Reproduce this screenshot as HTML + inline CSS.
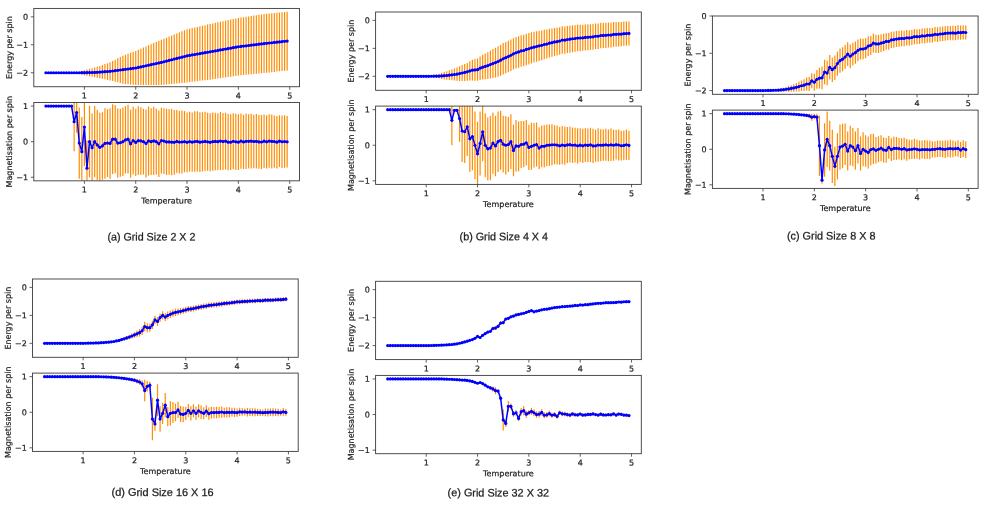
<!DOCTYPE html>
<html><head><meta charset="utf-8"><title>Ising model results</title>
<style>
html,body{margin:0;padding:0;background:#fff}
svg{display:block;text-rendering:geometricPrecision}
.t{font-family:"DejaVu Sans","Liberation Sans",sans-serif;font-size:8px;fill:#242424;stroke:#242424;stroke-width:0.22px}
.c{font-family:"Liberation Sans","DejaVu Sans",sans-serif;font-size:10.9px;fill:#1c1c1c;stroke:#1c1c1c;stroke-width:0.25px}
.eb{stroke:#ff8c00;stroke-width:1.2;fill:none}
.ln{stroke:#0000ff;stroke-width:1.5;fill:none;stroke-linejoin:round}
.mk{fill:#0000ff}
.ax{stroke:#3a3a3a;stroke-width:0.9;fill:none}
.tk{stroke:#3a3a3a;stroke-width:0.8;fill:none}
</style></head>
<body>
<svg width="1000" height="517" viewBox="0 0 1000 517">
<rect width="1000" height="517" fill="#fff"/>
<g>
<g>
<clipPath id="caE"><rect x="33.8" y="8.43" width="265.7" height="78.3"/></clipPath>
<g clip-path="url(#caE)">
<path class="eb" d="M79.27 71.91V73.59M81.83 71.02V74.38M84.4 70.14V75.17M86.97 69.5V75.71M89.53 68.87V76.25M92.1 68.24V76.79M94.67 67.6V77.33M97.23 66.83V77.73M99.8 65.92V78.28M102.37 65V78.82M104.93 64.09V79.36M107.5 63.17V79.9M110.06 62.26V80.44M112.63 60.95V81.08M115.2 59.63V81.72M117.76 58.32V82.37M120.33 57V83.01M122.9 55.69V83.65M125.46 54.74V83.93M128.03 53.79V84.21M130.6 52.84V84.49M133.16 51.89V84.77M135.73 50.94V85.05M138.3 49.82V85.05M140.86 48.7V85.05M143.43 47.58V85.05M146 46.46V85.05M148.56 45.34V85.05M151.13 44.22V85.05M153.7 43.11V85.05M156.26 41.99V85.05M158.83 40.87V85.05M161.4 39.75V85.05M163.96 38.7V84.79M166.53 37.65V84.52M169.09 36.6V84.26M171.66 35.56V83.99M174.23 34.51V83.72M176.79 33.46V83.46M179.36 32.41V83.19M181.93 31.36V82.93M184.49 30.31V82.66M187.06 29.26V82.4M189.63 28.68V82.09M192.19 28.09V81.78M194.76 27.5V81.47M197.33 26.91V81.17M199.89 26.33V80.86M202.46 25.74V80.55M205.03 25.15V80.24M207.59 24.57V79.93M210.16 23.98V79.63M212.72 23.39V79.32M215.29 22.85V78.94M217.86 22.3V78.56M220.42 21.75V78.19M222.99 21.21V77.81M225.56 20.66V77.43M228.12 20.12V77.05M230.69 19.57V76.68M233.26 19.03V76.3M235.82 18.48V75.92M238.39 17.94V75.54M240.96 17.55V75.3M243.52 17.17V75.05M246.09 16.78V74.81M248.66 16.39V74.56M251.22 16.01V74.31M253.79 15.62V74.07M256.36 15.24V73.82M258.92 14.85V73.58M261.49 14.46V73.33M264.06 14.08V73.08M266.62 13.81V72.79M269.19 13.55V72.49M271.75 13.29V72.2M274.32 13.02V71.9M276.89 12.76V71.61M279.45 12.49V71.31M282.02 12.23V71.02M284.59 11.97V70.72M287.15 11.7V70.43"/>
<polyline class="ln" points="45.9,72.75 48.47,72.75 51.04,72.75 53.6,72.75 56.17,72.75 58.74,72.75 61.3,72.75 63.87,72.75 66.43,72.75 69,72.75 71.57,72.75 74.13,72.75 76.7,72.75 79.27,72.75 81.83,72.7 84.4,72.65 86.97,72.61 89.53,72.56 92.1,72.51 94.67,72.47 97.23,72.28 99.8,72.1 102.37,71.91 104.93,71.72 107.5,71.54 110.06,71.35 112.63,71.01 115.2,70.68 117.76,70.34 120.33,70.01 122.9,69.67 125.46,69.34 128.03,69 130.6,68.67 133.16,68.33 135.73,67.99 138.3,67.43 140.86,66.88 143.43,66.32 146,65.76 148.56,65.2 151.13,64.64 153.7,64.08 156.26,63.52 158.83,62.96 161.4,62.4 163.96,61.74 166.53,61.09 169.09,60.43 171.66,59.77 174.23,59.12 176.79,58.46 179.36,57.8 181.93,57.14 184.49,56.49 187.06,55.83 189.63,55.38 192.19,54.93 194.76,54.49 197.33,54.04 199.89,53.59 202.46,53.14 205.03,52.7 207.59,52.25 210.16,51.8 212.72,51.36 215.29,50.89 217.86,50.43 220.42,49.97 222.99,49.51 225.56,49.05 228.12,48.59 230.69,48.13 233.26,47.66 235.82,47.2 238.39,46.74 240.96,46.43 243.52,46.11 246.09,45.79 248.66,45.48 251.22,45.16 253.79,44.85 256.36,44.53 258.92,44.21 261.49,43.9 264.06,43.58 266.62,43.3 269.19,43.02 271.75,42.74 274.32,42.46 276.89,42.18 279.45,41.9 282.02,41.62 284.59,41.34 287.15,41.06"/>
<g class="mk"><circle cx="45.9" cy="72.75" r="1.6"/><circle cx="48.47" cy="72.75" r="1.6"/><circle cx="51.04" cy="72.75" r="1.6"/><circle cx="53.6" cy="72.75" r="1.6"/><circle cx="56.17" cy="72.75" r="1.6"/><circle cx="58.74" cy="72.75" r="1.6"/><circle cx="61.3" cy="72.75" r="1.6"/><circle cx="63.87" cy="72.75" r="1.6"/><circle cx="66.43" cy="72.75" r="1.6"/><circle cx="69" cy="72.75" r="1.6"/><circle cx="71.57" cy="72.75" r="1.6"/><circle cx="74.13" cy="72.75" r="1.6"/><circle cx="76.7" cy="72.75" r="1.6"/><circle cx="79.27" cy="72.75" r="1.6"/><circle cx="81.83" cy="72.7" r="1.6"/><circle cx="84.4" cy="72.65" r="1.6"/><circle cx="86.97" cy="72.61" r="1.6"/><circle cx="89.53" cy="72.56" r="1.6"/><circle cx="92.1" cy="72.51" r="1.6"/><circle cx="94.67" cy="72.47" r="1.6"/><circle cx="97.23" cy="72.28" r="1.6"/><circle cx="99.8" cy="72.1" r="1.6"/><circle cx="102.37" cy="71.91" r="1.6"/><circle cx="104.93" cy="71.72" r="1.6"/><circle cx="107.5" cy="71.54" r="1.6"/><circle cx="110.06" cy="71.35" r="1.6"/><circle cx="112.63" cy="71.01" r="1.6"/><circle cx="115.2" cy="70.68" r="1.6"/><circle cx="117.76" cy="70.34" r="1.6"/><circle cx="120.33" cy="70.01" r="1.6"/><circle cx="122.9" cy="69.67" r="1.6"/><circle cx="125.46" cy="69.34" r="1.6"/><circle cx="128.03" cy="69" r="1.6"/><circle cx="130.6" cy="68.67" r="1.6"/><circle cx="133.16" cy="68.33" r="1.6"/><circle cx="135.73" cy="67.99" r="1.6"/><circle cx="138.3" cy="67.43" r="1.6"/><circle cx="140.86" cy="66.88" r="1.6"/><circle cx="143.43" cy="66.32" r="1.6"/><circle cx="146" cy="65.76" r="1.6"/><circle cx="148.56" cy="65.2" r="1.6"/><circle cx="151.13" cy="64.64" r="1.6"/><circle cx="153.7" cy="64.08" r="1.6"/><circle cx="156.26" cy="63.52" r="1.6"/><circle cx="158.83" cy="62.96" r="1.6"/><circle cx="161.4" cy="62.4" r="1.6"/><circle cx="163.96" cy="61.74" r="1.6"/><circle cx="166.53" cy="61.09" r="1.6"/><circle cx="169.09" cy="60.43" r="1.6"/><circle cx="171.66" cy="59.77" r="1.6"/><circle cx="174.23" cy="59.12" r="1.6"/><circle cx="176.79" cy="58.46" r="1.6"/><circle cx="179.36" cy="57.8" r="1.6"/><circle cx="181.93" cy="57.14" r="1.6"/><circle cx="184.49" cy="56.49" r="1.6"/><circle cx="187.06" cy="55.83" r="1.6"/><circle cx="189.63" cy="55.38" r="1.6"/><circle cx="192.19" cy="54.93" r="1.6"/><circle cx="194.76" cy="54.49" r="1.6"/><circle cx="197.33" cy="54.04" r="1.6"/><circle cx="199.89" cy="53.59" r="1.6"/><circle cx="202.46" cy="53.14" r="1.6"/><circle cx="205.03" cy="52.7" r="1.6"/><circle cx="207.59" cy="52.25" r="1.6"/><circle cx="210.16" cy="51.8" r="1.6"/><circle cx="212.72" cy="51.36" r="1.6"/><circle cx="215.29" cy="50.89" r="1.6"/><circle cx="217.86" cy="50.43" r="1.6"/><circle cx="220.42" cy="49.97" r="1.6"/><circle cx="222.99" cy="49.51" r="1.6"/><circle cx="225.56" cy="49.05" r="1.6"/><circle cx="228.12" cy="48.59" r="1.6"/><circle cx="230.69" cy="48.13" r="1.6"/><circle cx="233.26" cy="47.66" r="1.6"/><circle cx="235.82" cy="47.2" r="1.6"/><circle cx="238.39" cy="46.74" r="1.6"/><circle cx="240.96" cy="46.43" r="1.6"/><circle cx="243.52" cy="46.11" r="1.6"/><circle cx="246.09" cy="45.79" r="1.6"/><circle cx="248.66" cy="45.48" r="1.6"/><circle cx="251.22" cy="45.16" r="1.6"/><circle cx="253.79" cy="44.85" r="1.6"/><circle cx="256.36" cy="44.53" r="1.6"/><circle cx="258.92" cy="44.21" r="1.6"/><circle cx="261.49" cy="43.9" r="1.6"/><circle cx="264.06" cy="43.58" r="1.6"/><circle cx="266.62" cy="43.3" r="1.6"/><circle cx="269.19" cy="43.02" r="1.6"/><circle cx="271.75" cy="42.74" r="1.6"/><circle cx="274.32" cy="42.46" r="1.6"/><circle cx="276.89" cy="42.18" r="1.6"/><circle cx="279.45" cy="41.9" r="1.6"/><circle cx="282.02" cy="41.62" r="1.6"/><circle cx="284.59" cy="41.34" r="1.6"/><circle cx="287.15" cy="41.06" r="1.6"/></g>
</g>
<rect class="ax" x="33.8" y="8.43" width="265.7" height="78.3"/>
<path class="tk" d="M84.4 86.73v3M135.73 86.73v3M187.06 86.73v3M238.39 86.73v3M289.72 86.73v3M33.8 16.82h-3M33.8 44.78h-3M33.8 72.75h-3"/>
<text class="t" x="84.4" y="98.53" transform="rotate(0.03 84.4 98.53)" text-anchor="middle">1</text><text class="t" x="135.73" y="98.53" transform="rotate(0.03 135.73 98.53)" text-anchor="middle">2</text><text class="t" x="187.06" y="98.53" transform="rotate(0.03 187.06 98.53)" text-anchor="middle">3</text><text class="t" x="238.39" y="98.53" transform="rotate(0.03 238.39 98.53)" text-anchor="middle">4</text><text class="t" x="289.72" y="98.53" transform="rotate(0.03 289.72 98.53)" text-anchor="middle">5</text>
<text class="t" x="28.1" y="19.72" transform="rotate(0.03 28.1 19.72)" text-anchor="end">0</text><text class="t" x="28.1" y="47.68" transform="rotate(0.03 28.1 47.68)" text-anchor="end">−1</text><text class="t" x="28.1" y="75.65" transform="rotate(0.03 28.1 75.65)" text-anchor="end">−2</text>
<text class="t" transform="translate(12 47.58) rotate(-89.97)" text-anchor="middle">Energy per spin</text>
</g>
<g>
<clipPath id="caM"><rect x="33.8" y="102.53" width="265.7" height="78.3"/></clipPath>
<g clip-path="url(#caM)">
<path class="eb" d="M74.13 92.21V151.29M76.7 92.21V132.78M79.27 107.51V178.69M81.83 117.12V186.17M84.4 87.94V166.24M86.97 140.43V195.96M89.53 106.09V177.27M92.1 113.56V181.9M94.67 106.09V177.27M97.23 109.65V180.12M99.8 112.85V181.9M102.37 112.14V179.76M104.93 108.22V178.69M107.5 109.29V176.91M110.06 108.22V178.69M112.63 104.31V174.07M115.2 105.02V173.36M117.76 108.58V177.63M120.33 108.65V176.85M122.9 107.43V175.93M125.46 106.32V173.48M128.03 104.77V173.6M130.6 109.84V177.79M133.16 106.69V174.54M135.73 108.82V175.96M138.3 106.25V174.97M140.86 107.14V174.8M143.43 108.82V174.54M146 109.52V177.39M148.56 106.55V175.39M151.13 108.33V175.03M153.7 106.86V175.08M156.26 108.82V174.54M158.83 110.55V177.08M161.4 107.72V173.51M163.96 108.2V174.04M166.53 108.83V175.1M169.09 109.12V174.82M171.66 109.06V175.32M174.23 109.97V174.7M176.79 109.88V172.99M179.36 110.69V173.46M181.93 110.62V173.38M184.49 111.1V172.28M187.06 112.44V172.14M189.63 111.67V171.49M192.19 112.53V171.8M194.76 111.26V171.86M197.33 111.25V171.56M199.89 112.34V172.11M202.46 112.21V171.39M205.03 111.81V171.02M207.59 112.82V170.77M210.16 113.34V171.25M212.72 112.6V170.66M215.29 112.7V170.22M217.86 113.29V170.03M220.42 112.03V170.12M222.99 113.1V170.02M225.56 112.74V169.51M228.12 114.07V170.29M230.69 114.24V170.1M233.26 113.35V169.17M235.82 113.65V169.99M238.39 114.18V170.1M240.96 113.53V168.66M243.52 114.73V169.05M246.09 113.6V169.07M248.66 114.18V168.56M251.22 113.79V168.52M253.79 114.72V168.3M256.36 114.09V168.58M258.92 114.97V168.8M261.49 115.08V168.91M264.06 114.39V167.89M266.62 115.18V168.38M269.19 114.36V167.72M271.75 114.51V168.4M274.32 115.39V167.63M276.89 116.01V168.4M279.45 115.19V166.94M282.02 115.38V168.12M284.59 115.36V167.78M287.15 116.07V167.54"/>
<polyline class="ln" points="45.9,106.09 48.47,106.09 51.04,106.09 53.6,106.09 56.17,106.09 58.74,106.09 61.3,106.09 63.87,106.09 66.43,106.09 69,106.09 71.57,106.09 74.13,121.75 76.7,112.5 79.27,143.1 81.83,151.65 84.4,127.09 86.97,168.2 89.53,141.68 92.1,147.73 94.67,141.68 97.23,144.88 99.8,147.37 102.37,145.95 104.93,143.46 107.5,143.1 110.06,143.46 112.63,139.19 115.2,139.19 117.76,143.1 120.33,142.75 122.9,141.68 125.46,139.9 128.03,139.19 130.6,143.82 133.16,140.61 135.73,142.39 138.3,140.61 140.86,140.97 143.43,141.68 146,143.46 148.56,140.97 151.13,141.68 153.7,140.97 156.26,141.68 158.83,143.82 161.4,140.61 163.96,141.12 166.53,141.96 169.09,141.97 171.66,142.19 174.23,142.34 176.79,141.43 179.36,142.08 181.93,142 184.49,141.69 187.06,142.29 189.63,141.58 192.19,142.16 194.76,141.56 197.33,141.41 199.89,142.22 202.46,141.8 205.03,141.41 207.59,141.8 210.16,142.3 212.72,141.63 215.29,141.46 217.86,141.66 220.42,141.07 222.99,141.56 225.56,141.13 228.12,142.18 230.69,142.17 233.26,141.26 235.82,141.82 238.39,142.14 240.96,141.09 243.52,141.89 246.09,141.34 248.66,141.37 251.22,141.15 253.79,141.51 256.36,141.34 258.92,141.89 261.49,142 264.06,141.14 266.62,141.78 269.19,141.04 271.75,141.46 274.32,141.51 276.89,142.21 279.45,141.06 282.02,141.75 284.59,141.57 287.15,141.81"/>
<g class="mk"><circle cx="45.9" cy="106.09" r="1.6"/><circle cx="48.47" cy="106.09" r="1.6"/><circle cx="51.04" cy="106.09" r="1.6"/><circle cx="53.6" cy="106.09" r="1.6"/><circle cx="56.17" cy="106.09" r="1.6"/><circle cx="58.74" cy="106.09" r="1.6"/><circle cx="61.3" cy="106.09" r="1.6"/><circle cx="63.87" cy="106.09" r="1.6"/><circle cx="66.43" cy="106.09" r="1.6"/><circle cx="69" cy="106.09" r="1.6"/><circle cx="71.57" cy="106.09" r="1.6"/><circle cx="74.13" cy="121.75" r="1.6"/><circle cx="76.7" cy="112.5" r="1.6"/><circle cx="79.27" cy="143.1" r="1.6"/><circle cx="81.83" cy="151.65" r="1.6"/><circle cx="84.4" cy="127.09" r="1.6"/><circle cx="86.97" cy="168.2" r="1.6"/><circle cx="89.53" cy="141.68" r="1.6"/><circle cx="92.1" cy="147.73" r="1.6"/><circle cx="94.67" cy="141.68" r="1.6"/><circle cx="97.23" cy="144.88" r="1.6"/><circle cx="99.8" cy="147.37" r="1.6"/><circle cx="102.37" cy="145.95" r="1.6"/><circle cx="104.93" cy="143.46" r="1.6"/><circle cx="107.5" cy="143.1" r="1.6"/><circle cx="110.06" cy="143.46" r="1.6"/><circle cx="112.63" cy="139.19" r="1.6"/><circle cx="115.2" cy="139.19" r="1.6"/><circle cx="117.76" cy="143.1" r="1.6"/><circle cx="120.33" cy="142.75" r="1.6"/><circle cx="122.9" cy="141.68" r="1.6"/><circle cx="125.46" cy="139.9" r="1.6"/><circle cx="128.03" cy="139.19" r="1.6"/><circle cx="130.6" cy="143.82" r="1.6"/><circle cx="133.16" cy="140.61" r="1.6"/><circle cx="135.73" cy="142.39" r="1.6"/><circle cx="138.3" cy="140.61" r="1.6"/><circle cx="140.86" cy="140.97" r="1.6"/><circle cx="143.43" cy="141.68" r="1.6"/><circle cx="146" cy="143.46" r="1.6"/><circle cx="148.56" cy="140.97" r="1.6"/><circle cx="151.13" cy="141.68" r="1.6"/><circle cx="153.7" cy="140.97" r="1.6"/><circle cx="156.26" cy="141.68" r="1.6"/><circle cx="158.83" cy="143.82" r="1.6"/><circle cx="161.4" cy="140.61" r="1.6"/><circle cx="163.96" cy="141.12" r="1.6"/><circle cx="166.53" cy="141.96" r="1.6"/><circle cx="169.09" cy="141.97" r="1.6"/><circle cx="171.66" cy="142.19" r="1.6"/><circle cx="174.23" cy="142.34" r="1.6"/><circle cx="176.79" cy="141.43" r="1.6"/><circle cx="179.36" cy="142.08" r="1.6"/><circle cx="181.93" cy="142" r="1.6"/><circle cx="184.49" cy="141.69" r="1.6"/><circle cx="187.06" cy="142.29" r="1.6"/><circle cx="189.63" cy="141.58" r="1.6"/><circle cx="192.19" cy="142.16" r="1.6"/><circle cx="194.76" cy="141.56" r="1.6"/><circle cx="197.33" cy="141.41" r="1.6"/><circle cx="199.89" cy="142.22" r="1.6"/><circle cx="202.46" cy="141.8" r="1.6"/><circle cx="205.03" cy="141.41" r="1.6"/><circle cx="207.59" cy="141.8" r="1.6"/><circle cx="210.16" cy="142.3" r="1.6"/><circle cx="212.72" cy="141.63" r="1.6"/><circle cx="215.29" cy="141.46" r="1.6"/><circle cx="217.86" cy="141.66" r="1.6"/><circle cx="220.42" cy="141.07" r="1.6"/><circle cx="222.99" cy="141.56" r="1.6"/><circle cx="225.56" cy="141.13" r="1.6"/><circle cx="228.12" cy="142.18" r="1.6"/><circle cx="230.69" cy="142.17" r="1.6"/><circle cx="233.26" cy="141.26" r="1.6"/><circle cx="235.82" cy="141.82" r="1.6"/><circle cx="238.39" cy="142.14" r="1.6"/><circle cx="240.96" cy="141.09" r="1.6"/><circle cx="243.52" cy="141.89" r="1.6"/><circle cx="246.09" cy="141.34" r="1.6"/><circle cx="248.66" cy="141.37" r="1.6"/><circle cx="251.22" cy="141.15" r="1.6"/><circle cx="253.79" cy="141.51" r="1.6"/><circle cx="256.36" cy="141.34" r="1.6"/><circle cx="258.92" cy="141.89" r="1.6"/><circle cx="261.49" cy="142" r="1.6"/><circle cx="264.06" cy="141.14" r="1.6"/><circle cx="266.62" cy="141.78" r="1.6"/><circle cx="269.19" cy="141.04" r="1.6"/><circle cx="271.75" cy="141.46" r="1.6"/><circle cx="274.32" cy="141.51" r="1.6"/><circle cx="276.89" cy="142.21" r="1.6"/><circle cx="279.45" cy="141.06" r="1.6"/><circle cx="282.02" cy="141.75" r="1.6"/><circle cx="284.59" cy="141.57" r="1.6"/><circle cx="287.15" cy="141.81" r="1.6"/></g>
</g>
<rect class="ax" x="33.8" y="102.53" width="265.7" height="78.3"/>
<path class="tk" d="M84.4 180.83v3M135.73 180.83v3M187.06 180.83v3M238.39 180.83v3M289.72 180.83v3M33.8 106.09h-3M33.8 141.68h-3M33.8 177.27h-3"/>
<text class="t" x="84.4" y="192.63" transform="rotate(0.03 84.4 192.63)" text-anchor="middle">1</text><text class="t" x="135.73" y="192.63" transform="rotate(0.03 135.73 192.63)" text-anchor="middle">2</text><text class="t" x="187.06" y="192.63" transform="rotate(0.03 187.06 192.63)" text-anchor="middle">3</text><text class="t" x="238.39" y="192.63" transform="rotate(0.03 238.39 192.63)" text-anchor="middle">4</text><text class="t" x="289.72" y="192.63" transform="rotate(0.03 289.72 192.63)" text-anchor="middle">5</text>
<text class="t" x="28.1" y="108.99" transform="rotate(0.03 28.1 108.99)" text-anchor="end">1</text><text class="t" x="28.1" y="144.58" transform="rotate(0.03 28.1 144.58)" text-anchor="end">0</text><text class="t" x="28.1" y="180.17" transform="rotate(0.03 28.1 180.17)" text-anchor="end">−1</text>
<text class="t" transform="translate(12 141.68) rotate(-89.97)" text-anchor="middle">Magnetisation per spin</text>
</g>
<text class="t" x="166.65" y="203.43" transform="rotate(0.03 166.65 203.43)" text-anchor="middle">Temperature</text>
<text class="c" x="107.4" y="240.6" transform="rotate(0.03 151.4 240.6)" textLength="88" lengthAdjust="spacingAndGlyphs">(a) Grid Size 2 X 2</text>
<g>
<clipPath id="cbE"><rect x="375.6" y="12" width="265.7" height="78.3"/></clipPath>
<g clip-path="url(#cbE)">
<path class="eb" d="M428.77 76V76.56M431.33 75.69V76.81M433.9 75.09V77.33M436.47 74.5V77.86M439.03 73.66V78.42M441.6 72.82V78.97M444.17 71.98V79.39M446.73 71.14V79.81M449.3 70.35V80M451.87 69.55V80.18M454.43 68.49V80.51M457 67.43V80.85M459.56 66.22V80.9M462.13 65.02V80.96M464.7 64.01V80.93M467.26 62.89V80.79M469.83 61.17V80.61M472.4 59.64V80.62M474.96 59.1V80.78M477.53 58.44V80.81M480.1 56.42V79.91M482.66 54.83V79.44M485.23 53.54V79.26M487.8 52.2V79.05M490.36 50.57V78.53M492.93 49.02V78.1M495.5 47.71V77.49M498.06 46.26V76.74M500.63 44.75V75.65M503.2 43.08V74.4M505.76 41.96V73.31M508.33 40.86V72.24M510.89 39.57V70.97M513.46 38.15V69.58M516.03 37.02V68.48M518.59 36.22V67.71M521.16 35.21V66.73M523.73 34.7V66.25M526.29 33.64V65.21M528.86 32.93V64.53M531.43 32.2V63.44M533.99 31.69V62.56M536.56 31.24V61.75M539.13 30.75V60.89M541.69 30.47V60.25M544.26 29.78V59.2M546.83 29.52V58.57M549.39 28.87V57.56M551.96 28.55V56.87M554.53 27.98V55.94M557.09 27.76V55.56M559.66 27.16V54.79M562.22 26.37V53.83M564.79 26.57V53.86M567.36 25.96V53.08M569.92 25.69V52.64M572.49 25.34V52.13M575.06 25.2V51.82M577.62 24.82V51.27M580.19 24.87V51.16M582.76 24.69V50.86M585.32 24.42V50.49M587.89 24.27V50.22M590.46 24.13V49.96M593.02 23.92V49.65M595.59 23.46V49.07M598.16 23.52V49.02M600.72 22.83V48.22M603.29 22.83V48.11M605.86 22.74V47.91M608.42 22.49V47.53M610.99 22.65V47.56M613.55 22.06V46.86M616.12 21.98V46.65M618.69 21.92V46.46M621.25 21.94V46.36M623.82 21.56V45.86M626.39 21.48V45.66M628.95 21.4V45.45"/>
<polyline class="ln" points="387.7,76.32 390.27,76.32 392.84,76.32 395.4,76.32 397.97,76.32 400.54,76.32 403.1,76.32 405.67,76.32 408.23,76.32 410.8,76.32 413.37,76.32 415.93,76.32 418.5,76.32 421.07,76.32 423.63,76.32 426.2,76.32 428.77,76.28 431.33,76.25 433.9,76.21 436.47,76.18 439.03,76.04 441.6,75.9 444.17,75.69 446.73,75.48 449.3,75.17 451.87,74.86 454.43,74.5 457,74.14 459.56,73.56 462.13,72.99 464.7,72.47 467.26,71.84 469.83,70.89 472.4,70.13 474.96,69.94 477.53,69.63 480.1,68.16 482.66,67.13 485.23,66.4 487.8,65.62 490.36,64.55 492.93,63.56 495.5,62.6 498.06,61.5 500.63,60.2 503.2,58.74 505.76,57.64 508.33,56.55 510.89,55.27 513.46,53.87 516.03,52.75 518.59,51.97 521.16,50.97 523.73,50.48 526.29,49.43 528.86,48.73 531.43,47.82 533.99,47.13 536.56,46.49 539.13,45.82 541.69,45.36 544.26,44.49 546.83,44.04 549.39,43.22 551.96,42.71 554.53,41.96 557.09,41.66 559.66,40.98 562.22,40.1 564.79,40.22 567.36,39.52 569.92,39.16 572.49,38.73 575.06,38.51 577.62,38.05 580.19,38.02 582.76,37.78 585.32,37.45 587.89,37.25 590.46,37.04 593.02,36.79 595.59,36.27 598.16,36.27 600.72,35.52 603.29,35.47 605.86,35.32 608.42,35.01 610.99,35.1 613.55,34.46 616.12,34.31 618.69,34.19 621.25,34.15 623.82,33.71 626.39,33.57 628.95,33.42"/>
<g class="mk"><circle cx="387.7" cy="76.32" r="1.6"/><circle cx="390.27" cy="76.32" r="1.6"/><circle cx="392.84" cy="76.32" r="1.6"/><circle cx="395.4" cy="76.32" r="1.6"/><circle cx="397.97" cy="76.32" r="1.6"/><circle cx="400.54" cy="76.32" r="1.6"/><circle cx="403.1" cy="76.32" r="1.6"/><circle cx="405.67" cy="76.32" r="1.6"/><circle cx="408.23" cy="76.32" r="1.6"/><circle cx="410.8" cy="76.32" r="1.6"/><circle cx="413.37" cy="76.32" r="1.6"/><circle cx="415.93" cy="76.32" r="1.6"/><circle cx="418.5" cy="76.32" r="1.6"/><circle cx="421.07" cy="76.32" r="1.6"/><circle cx="423.63" cy="76.32" r="1.6"/><circle cx="426.2" cy="76.32" r="1.6"/><circle cx="428.77" cy="76.28" r="1.6"/><circle cx="431.33" cy="76.25" r="1.6"/><circle cx="433.9" cy="76.21" r="1.6"/><circle cx="436.47" cy="76.18" r="1.6"/><circle cx="439.03" cy="76.04" r="1.6"/><circle cx="441.6" cy="75.9" r="1.6"/><circle cx="444.17" cy="75.69" r="1.6"/><circle cx="446.73" cy="75.48" r="1.6"/><circle cx="449.3" cy="75.17" r="1.6"/><circle cx="451.87" cy="74.86" r="1.6"/><circle cx="454.43" cy="74.5" r="1.6"/><circle cx="457" cy="74.14" r="1.6"/><circle cx="459.56" cy="73.56" r="1.6"/><circle cx="462.13" cy="72.99" r="1.6"/><circle cx="464.7" cy="72.47" r="1.6"/><circle cx="467.26" cy="71.84" r="1.6"/><circle cx="469.83" cy="70.89" r="1.6"/><circle cx="472.4" cy="70.13" r="1.6"/><circle cx="474.96" cy="69.94" r="1.6"/><circle cx="477.53" cy="69.63" r="1.6"/><circle cx="480.1" cy="68.16" r="1.6"/><circle cx="482.66" cy="67.13" r="1.6"/><circle cx="485.23" cy="66.4" r="1.6"/><circle cx="487.8" cy="65.62" r="1.6"/><circle cx="490.36" cy="64.55" r="1.6"/><circle cx="492.93" cy="63.56" r="1.6"/><circle cx="495.5" cy="62.6" r="1.6"/><circle cx="498.06" cy="61.5" r="1.6"/><circle cx="500.63" cy="60.2" r="1.6"/><circle cx="503.2" cy="58.74" r="1.6"/><circle cx="505.76" cy="57.64" r="1.6"/><circle cx="508.33" cy="56.55" r="1.6"/><circle cx="510.89" cy="55.27" r="1.6"/><circle cx="513.46" cy="53.87" r="1.6"/><circle cx="516.03" cy="52.75" r="1.6"/><circle cx="518.59" cy="51.97" r="1.6"/><circle cx="521.16" cy="50.97" r="1.6"/><circle cx="523.73" cy="50.48" r="1.6"/><circle cx="526.29" cy="49.43" r="1.6"/><circle cx="528.86" cy="48.73" r="1.6"/><circle cx="531.43" cy="47.82" r="1.6"/><circle cx="533.99" cy="47.13" r="1.6"/><circle cx="536.56" cy="46.49" r="1.6"/><circle cx="539.13" cy="45.82" r="1.6"/><circle cx="541.69" cy="45.36" r="1.6"/><circle cx="544.26" cy="44.49" r="1.6"/><circle cx="546.83" cy="44.04" r="1.6"/><circle cx="549.39" cy="43.22" r="1.6"/><circle cx="551.96" cy="42.71" r="1.6"/><circle cx="554.53" cy="41.96" r="1.6"/><circle cx="557.09" cy="41.66" r="1.6"/><circle cx="559.66" cy="40.98" r="1.6"/><circle cx="562.22" cy="40.1" r="1.6"/><circle cx="564.79" cy="40.22" r="1.6"/><circle cx="567.36" cy="39.52" r="1.6"/><circle cx="569.92" cy="39.16" r="1.6"/><circle cx="572.49" cy="38.73" r="1.6"/><circle cx="575.06" cy="38.51" r="1.6"/><circle cx="577.62" cy="38.05" r="1.6"/><circle cx="580.19" cy="38.02" r="1.6"/><circle cx="582.76" cy="37.78" r="1.6"/><circle cx="585.32" cy="37.45" r="1.6"/><circle cx="587.89" cy="37.25" r="1.6"/><circle cx="590.46" cy="37.04" r="1.6"/><circle cx="593.02" cy="36.79" r="1.6"/><circle cx="595.59" cy="36.27" r="1.6"/><circle cx="598.16" cy="36.27" r="1.6"/><circle cx="600.72" cy="35.52" r="1.6"/><circle cx="603.29" cy="35.47" r="1.6"/><circle cx="605.86" cy="35.32" r="1.6"/><circle cx="608.42" cy="35.01" r="1.6"/><circle cx="610.99" cy="35.1" r="1.6"/><circle cx="613.55" cy="34.46" r="1.6"/><circle cx="616.12" cy="34.31" r="1.6"/><circle cx="618.69" cy="34.19" r="1.6"/><circle cx="621.25" cy="34.15" r="1.6"/><circle cx="623.82" cy="33.71" r="1.6"/><circle cx="626.39" cy="33.57" r="1.6"/><circle cx="628.95" cy="33.42" r="1.6"/></g>
</g>
<rect class="ax" x="375.6" y="12" width="265.7" height="78.3"/>
<path class="tk" d="M426.2 90.3v3M477.53 90.3v3M528.86 90.3v3M580.19 90.3v3M631.52 90.3v3M375.6 20.39h-3M375.6 48.35h-3M375.6 76.32h-3"/>
<text class="t" x="426.2" y="102.1" transform="rotate(0.03 426.2 102.1)" text-anchor="middle">1</text><text class="t" x="477.53" y="102.1" transform="rotate(0.03 477.53 102.1)" text-anchor="middle">2</text><text class="t" x="528.86" y="102.1" transform="rotate(0.03 528.86 102.1)" text-anchor="middle">3</text><text class="t" x="580.19" y="102.1" transform="rotate(0.03 580.19 102.1)" text-anchor="middle">4</text><text class="t" x="631.52" y="102.1" transform="rotate(0.03 631.52 102.1)" text-anchor="middle">5</text>
<text class="t" x="369.9" y="23.29" transform="rotate(0.03 369.9 23.29)" text-anchor="end">0</text><text class="t" x="369.9" y="51.25" transform="rotate(0.03 369.9 51.25)" text-anchor="end">−1</text><text class="t" x="369.9" y="79.22" transform="rotate(0.03 369.9 79.22)" text-anchor="end">−2</text>
<text class="t" transform="translate(353.8 51.15) rotate(-89.97)" text-anchor="middle">Energy per spin</text>
</g>
<g>
<clipPath id="cbM"><rect x="375.6" y="106.1" width="265.7" height="78.3"/></clipPath>
<g clip-path="url(#cbM)">
<path class="eb" d="M451.87 95.42V145.25M454.43 109.3V111.44M457 109.3V111.44M459.56 95.42V141.69M462.13 100.05V161.98M464.7 100.41V163.05M467.26 97.56V155.93M469.83 105.74V171.94M472.4 103.25V170.16M474.96 111.44V179.06M477.53 121.76V185.82M480.1 111.44V175.5M482.66 102.19V161.27M485.23 113.22V177.28M487.8 117.49V180.13M490.36 116.07V180.13M492.93 112.51V173.72M495.5 115.71V176.21M498.06 111.44V171.94M500.63 110.73V169.81M503.2 115.77V172.59M505.76 116.11V174.39M508.33 116.99V172.08M510.89 114.33V169.05M513.46 124.86V176.31M516.03 120.11V171.81M518.59 121.44V171.2M521.16 121.07V168M523.73 121.04V167.32M526.29 120.01V165.51M528.86 124.78V169.99M531.43 122.81V169.82M533.99 123.08V167.42M536.56 122.6V166.48M539.13 127.31V168.88M541.69 125.5V167.13M544.26 125.25V167.39M546.83 124.51V165.99M549.39 124.54V165.76M551.96 124.36V165.15M554.53 125.24V164.23M557.09 125.62V164.61M559.66 126.98V164.71M562.22 125.99V164.24M564.79 126.5V164.72M567.36 126.89V162.95M569.92 126.8V162.58M572.49 127.43V163.02M575.06 127.72V162.48M577.62 128.19V163.55M580.19 128.27V162.12M582.76 128.65V162.9M585.32 128.22V161.95M587.89 128.59V162.3M590.46 127.74V161.99M593.02 128.87V162.92M595.59 129.78V161.83M598.16 128.28V161.69M600.72 129.16V161.29M603.29 129.45V160.84M605.86 128.87V160.65M608.42 129.4V161.14M610.99 128.62V161M613.55 129.83V160.64M616.12 129.78V159.51M618.69 129.4V160.62M621.25 131.1V160.4M623.82 130.56V160.33M626.39 129.61V159.85M628.95 130.86V160.07"/>
<polyline class="ln" points="387.7,109.66 390.27,109.66 392.84,109.66 395.4,109.66 397.97,109.66 400.54,109.66 403.1,109.66 405.67,109.66 408.23,109.66 410.8,109.66 413.37,109.66 415.93,109.66 418.5,109.66 421.07,109.66 423.63,109.66 426.2,109.66 428.77,109.66 431.33,109.66 433.9,109.66 436.47,109.66 439.03,109.66 441.6,109.66 444.17,109.66 446.73,109.66 449.3,109.66 451.87,120.34 454.43,110.37 457,110.37 459.56,118.56 462.13,131.01 464.7,131.73 467.26,126.74 469.83,138.84 472.4,136.71 474.96,145.25 477.53,153.79 480.1,143.47 482.66,131.73 485.23,145.25 487.8,148.81 490.36,148.1 492.93,143.11 495.5,145.96 498.06,141.69 500.63,140.27 503.2,144.18 505.76,145.25 508.33,144.54 510.89,141.69 513.46,150.59 516.03,145.96 518.59,146.32 521.16,144.54 523.73,144.18 526.29,142.76 528.86,147.39 531.43,146.32 533.99,145.25 536.56,144.54 539.13,148.1 541.69,146.32 544.26,146.32 546.83,145.25 549.39,145.15 551.96,144.76 554.53,144.74 557.09,145.11 559.66,145.84 562.22,145.11 564.79,145.61 567.36,144.92 569.92,144.69 572.49,145.23 575.06,145.1 577.62,145.87 580.19,145.19 582.76,145.78 585.32,145.09 587.89,145.44 590.46,144.87 593.02,145.89 595.59,145.81 598.16,144.99 600.72,145.23 603.29,145.15 605.86,144.76 608.42,145.27 610.99,144.81 613.55,145.24 616.12,144.64 618.69,145.01 621.25,145.75 623.82,145.44 626.39,144.73 628.95,145.46"/>
<g class="mk"><circle cx="387.7" cy="109.66" r="1.6"/><circle cx="390.27" cy="109.66" r="1.6"/><circle cx="392.84" cy="109.66" r="1.6"/><circle cx="395.4" cy="109.66" r="1.6"/><circle cx="397.97" cy="109.66" r="1.6"/><circle cx="400.54" cy="109.66" r="1.6"/><circle cx="403.1" cy="109.66" r="1.6"/><circle cx="405.67" cy="109.66" r="1.6"/><circle cx="408.23" cy="109.66" r="1.6"/><circle cx="410.8" cy="109.66" r="1.6"/><circle cx="413.37" cy="109.66" r="1.6"/><circle cx="415.93" cy="109.66" r="1.6"/><circle cx="418.5" cy="109.66" r="1.6"/><circle cx="421.07" cy="109.66" r="1.6"/><circle cx="423.63" cy="109.66" r="1.6"/><circle cx="426.2" cy="109.66" r="1.6"/><circle cx="428.77" cy="109.66" r="1.6"/><circle cx="431.33" cy="109.66" r="1.6"/><circle cx="433.9" cy="109.66" r="1.6"/><circle cx="436.47" cy="109.66" r="1.6"/><circle cx="439.03" cy="109.66" r="1.6"/><circle cx="441.6" cy="109.66" r="1.6"/><circle cx="444.17" cy="109.66" r="1.6"/><circle cx="446.73" cy="109.66" r="1.6"/><circle cx="449.3" cy="109.66" r="1.6"/><circle cx="451.87" cy="120.34" r="1.6"/><circle cx="454.43" cy="110.37" r="1.6"/><circle cx="457" cy="110.37" r="1.6"/><circle cx="459.56" cy="118.56" r="1.6"/><circle cx="462.13" cy="131.01" r="1.6"/><circle cx="464.7" cy="131.73" r="1.6"/><circle cx="467.26" cy="126.74" r="1.6"/><circle cx="469.83" cy="138.84" r="1.6"/><circle cx="472.4" cy="136.71" r="1.6"/><circle cx="474.96" cy="145.25" r="1.6"/><circle cx="477.53" cy="153.79" r="1.6"/><circle cx="480.1" cy="143.47" r="1.6"/><circle cx="482.66" cy="131.73" r="1.6"/><circle cx="485.23" cy="145.25" r="1.6"/><circle cx="487.8" cy="148.81" r="1.6"/><circle cx="490.36" cy="148.1" r="1.6"/><circle cx="492.93" cy="143.11" r="1.6"/><circle cx="495.5" cy="145.96" r="1.6"/><circle cx="498.06" cy="141.69" r="1.6"/><circle cx="500.63" cy="140.27" r="1.6"/><circle cx="503.2" cy="144.18" r="1.6"/><circle cx="505.76" cy="145.25" r="1.6"/><circle cx="508.33" cy="144.54" r="1.6"/><circle cx="510.89" cy="141.69" r="1.6"/><circle cx="513.46" cy="150.59" r="1.6"/><circle cx="516.03" cy="145.96" r="1.6"/><circle cx="518.59" cy="146.32" r="1.6"/><circle cx="521.16" cy="144.54" r="1.6"/><circle cx="523.73" cy="144.18" r="1.6"/><circle cx="526.29" cy="142.76" r="1.6"/><circle cx="528.86" cy="147.39" r="1.6"/><circle cx="531.43" cy="146.32" r="1.6"/><circle cx="533.99" cy="145.25" r="1.6"/><circle cx="536.56" cy="144.54" r="1.6"/><circle cx="539.13" cy="148.1" r="1.6"/><circle cx="541.69" cy="146.32" r="1.6"/><circle cx="544.26" cy="146.32" r="1.6"/><circle cx="546.83" cy="145.25" r="1.6"/><circle cx="549.39" cy="145.15" r="1.6"/><circle cx="551.96" cy="144.76" r="1.6"/><circle cx="554.53" cy="144.74" r="1.6"/><circle cx="557.09" cy="145.11" r="1.6"/><circle cx="559.66" cy="145.84" r="1.6"/><circle cx="562.22" cy="145.11" r="1.6"/><circle cx="564.79" cy="145.61" r="1.6"/><circle cx="567.36" cy="144.92" r="1.6"/><circle cx="569.92" cy="144.69" r="1.6"/><circle cx="572.49" cy="145.23" r="1.6"/><circle cx="575.06" cy="145.1" r="1.6"/><circle cx="577.62" cy="145.87" r="1.6"/><circle cx="580.19" cy="145.19" r="1.6"/><circle cx="582.76" cy="145.78" r="1.6"/><circle cx="585.32" cy="145.09" r="1.6"/><circle cx="587.89" cy="145.44" r="1.6"/><circle cx="590.46" cy="144.87" r="1.6"/><circle cx="593.02" cy="145.89" r="1.6"/><circle cx="595.59" cy="145.81" r="1.6"/><circle cx="598.16" cy="144.99" r="1.6"/><circle cx="600.72" cy="145.23" r="1.6"/><circle cx="603.29" cy="145.15" r="1.6"/><circle cx="605.86" cy="144.76" r="1.6"/><circle cx="608.42" cy="145.27" r="1.6"/><circle cx="610.99" cy="144.81" r="1.6"/><circle cx="613.55" cy="145.24" r="1.6"/><circle cx="616.12" cy="144.64" r="1.6"/><circle cx="618.69" cy="145.01" r="1.6"/><circle cx="621.25" cy="145.75" r="1.6"/><circle cx="623.82" cy="145.44" r="1.6"/><circle cx="626.39" cy="144.73" r="1.6"/><circle cx="628.95" cy="145.46" r="1.6"/></g>
</g>
<rect class="ax" x="375.6" y="106.1" width="265.7" height="78.3"/>
<path class="tk" d="M426.2 184.4v3M477.53 184.4v3M528.86 184.4v3M580.19 184.4v3M631.52 184.4v3M375.6 109.66h-3M375.6 145.25h-3M375.6 180.84h-3"/>
<text class="t" x="426.2" y="196.2" transform="rotate(0.03 426.2 196.2)" text-anchor="middle">1</text><text class="t" x="477.53" y="196.2" transform="rotate(0.03 477.53 196.2)" text-anchor="middle">2</text><text class="t" x="528.86" y="196.2" transform="rotate(0.03 528.86 196.2)" text-anchor="middle">3</text><text class="t" x="580.19" y="196.2" transform="rotate(0.03 580.19 196.2)" text-anchor="middle">4</text><text class="t" x="631.52" y="196.2" transform="rotate(0.03 631.52 196.2)" text-anchor="middle">5</text>
<text class="t" x="369.9" y="112.56" transform="rotate(0.03 369.9 112.56)" text-anchor="end">1</text><text class="t" x="369.9" y="148.15" transform="rotate(0.03 369.9 148.15)" text-anchor="end">0</text><text class="t" x="369.9" y="183.74" transform="rotate(0.03 369.9 183.74)" text-anchor="end">−1</text>
<text class="t" transform="translate(353.8 145.25) rotate(-89.97)" text-anchor="middle">Magnetisation per spin</text>
</g>
<text class="t" x="508.45" y="207" transform="rotate(0.03 508.45 207)" text-anchor="middle">Temperature</text>
<text class="c" x="459.6" y="240.3" transform="rotate(0.03 503.8 240.3)" textLength="88.4" lengthAdjust="spacingAndGlyphs">(b) Grid Size 4 X 4</text>
<g>
<clipPath id="ccE"><rect x="712.4" y="16" width="265.7" height="78.3"/></clipPath>
<g clip-path="url(#ccE)">
<path class="eb" d="M768.13 90.17V90.73M770.7 89.97V90.8M773.27 89.76V90.88M775.83 89.33V91.19M778.4 88.89V91.5M780.97 88.33V91.5M783.53 87.78V91.5M786.1 86.94V91.6M788.66 86.1V91.69M791.23 85.16V91.69M793.8 84.23V91.69M796.36 83V91.58M798.93 81.77V91.47M801.5 80.41V91.11M804.06 79.31V91.02M806.63 77.62V90.4M809.2 77.09V90.93M811.76 73.35V88.26M814.33 73.83V90.68M816.9 69.95V88.74M819.46 67.79V88.52M822.03 66.52V89.19M824.6 59.74V84.34M827.16 60.74V85.35M829.73 54.93V79.53M832.3 57.44V81.94M834.86 55.48V79.88M837.43 51.43V75.72M840 48.58V72.76M842.56 47.18V71.25M845.13 45.03V69M847.69 42.17V66.04M850.26 44.6V67.93M852.83 42.71V65.5M855.39 41.52V63.78M857.96 39.59V61.32M860.53 38.4V59.6M863.09 38.66V59.33M865.66 38.19V58.32M868.23 36.23V55.95M870.79 35.7V54.99M873.36 33.71V52.58M875.93 34.66V53.12M878.49 34.87V52.91M881.06 34.34V51.95M883.63 33.84V51.03M886.19 33V49.78M888.76 33.08V49.7M891.33 31.65V48.11M893.89 31.45V47.77M896.46 30.96V47.11M899.02 30.65V46.65M901.59 30.51V46.35M904.16 30.66V46.36M906.72 30V45.53M909.29 30.23V45.61M911.86 29.88V45.11M914.42 29.09V44.16M916.99 29.23V44.15M919.56 29.15V44.03M922.12 28.48V43.32M924.69 28.6V43.4M927.26 27.97V42.72M929.82 27.99V42.71M932.39 27.88V42.56M934.96 26.92V41.56M937.52 27.32V41.92M940.09 26.71V41.27M942.65 26.57V41.09M945.22 26.18V40.66M947.79 25.88V40.33M950.35 25.91V40.31M952.92 25.77V40.13M955.49 25.96V40.29M958.05 25.37V39.65M960.62 25.59V39.84M963.19 25.22V39.43M965.75 25.41V39.57"/>
<polyline class="ln" points="724.5,90.57 727.07,90.57 729.64,90.57 732.2,90.57 734.77,90.57 737.34,90.57 739.9,90.57 742.47,90.57 745.03,90.57 747.6,90.57 750.17,90.57 752.73,90.57 755.3,90.57 757.87,90.57 760.43,90.57 763,90.57 765.57,90.51 768.13,90.45 770.7,90.39 773.27,90.32 775.83,90.26 778.4,90.2 780.97,89.92 783.53,89.64 786.1,89.27 788.66,88.89 791.23,88.43 793.8,87.96 796.36,87.29 798.93,86.62 801.5,85.76 804.06,85.16 806.63,84.01 809.2,84.01 811.76,80.8 814.33,82.26 816.9,79.35 819.46,78.16 822.03,77.86 824.6,72.04 827.16,73.05 829.73,67.23 832.3,69.69 834.86,67.68 837.43,63.58 840,60.67 842.56,59.21 845.13,57.01 847.69,54.11 850.26,56.27 852.83,54.11 855.39,52.65 857.96,50.45 860.53,49 863.09,49 865.66,48.25 868.23,46.09 870.79,45.34 873.36,43.14 875.93,43.89 878.49,43.89 881.06,43.14 883.63,42.44 886.19,41.39 888.76,41.39 891.33,39.88 893.89,39.61 896.46,39.03 899.02,38.65 901.59,38.43 904.16,38.51 906.72,37.77 909.29,37.92 911.86,37.5 914.42,36.63 916.99,36.69 919.56,36.59 922.12,35.9 924.69,36 927.26,35.35 929.82,35.35 932.39,35.22 934.96,34.24 937.52,34.62 940.09,33.99 942.65,33.83 945.22,33.42 947.79,33.11 950.35,33.11 952.92,32.95 955.49,33.13 958.05,32.51 960.62,32.71 963.19,32.33 965.75,32.49"/>
<g class="mk"><circle cx="724.5" cy="90.57" r="1.6"/><circle cx="727.07" cy="90.57" r="1.6"/><circle cx="729.64" cy="90.57" r="1.6"/><circle cx="732.2" cy="90.57" r="1.6"/><circle cx="734.77" cy="90.57" r="1.6"/><circle cx="737.34" cy="90.57" r="1.6"/><circle cx="739.9" cy="90.57" r="1.6"/><circle cx="742.47" cy="90.57" r="1.6"/><circle cx="745.03" cy="90.57" r="1.6"/><circle cx="747.6" cy="90.57" r="1.6"/><circle cx="750.17" cy="90.57" r="1.6"/><circle cx="752.73" cy="90.57" r="1.6"/><circle cx="755.3" cy="90.57" r="1.6"/><circle cx="757.87" cy="90.57" r="1.6"/><circle cx="760.43" cy="90.57" r="1.6"/><circle cx="763" cy="90.57" r="1.6"/><circle cx="765.57" cy="90.51" r="1.6"/><circle cx="768.13" cy="90.45" r="1.6"/><circle cx="770.7" cy="90.39" r="1.6"/><circle cx="773.27" cy="90.32" r="1.6"/><circle cx="775.83" cy="90.26" r="1.6"/><circle cx="778.4" cy="90.2" r="1.6"/><circle cx="780.97" cy="89.92" r="1.6"/><circle cx="783.53" cy="89.64" r="1.6"/><circle cx="786.1" cy="89.27" r="1.6"/><circle cx="788.66" cy="88.89" r="1.6"/><circle cx="791.23" cy="88.43" r="1.6"/><circle cx="793.8" cy="87.96" r="1.6"/><circle cx="796.36" cy="87.29" r="1.6"/><circle cx="798.93" cy="86.62" r="1.6"/><circle cx="801.5" cy="85.76" r="1.6"/><circle cx="804.06" cy="85.16" r="1.6"/><circle cx="806.63" cy="84.01" r="1.6"/><circle cx="809.2" cy="84.01" r="1.6"/><circle cx="811.76" cy="80.8" r="1.6"/><circle cx="814.33" cy="82.26" r="1.6"/><circle cx="816.9" cy="79.35" r="1.6"/><circle cx="819.46" cy="78.16" r="1.6"/><circle cx="822.03" cy="77.86" r="1.6"/><circle cx="824.6" cy="72.04" r="1.6"/><circle cx="827.16" cy="73.05" r="1.6"/><circle cx="829.73" cy="67.23" r="1.6"/><circle cx="832.3" cy="69.69" r="1.6"/><circle cx="834.86" cy="67.68" r="1.6"/><circle cx="837.43" cy="63.58" r="1.6"/><circle cx="840" cy="60.67" r="1.6"/><circle cx="842.56" cy="59.21" r="1.6"/><circle cx="845.13" cy="57.01" r="1.6"/><circle cx="847.69" cy="54.11" r="1.6"/><circle cx="850.26" cy="56.27" r="1.6"/><circle cx="852.83" cy="54.11" r="1.6"/><circle cx="855.39" cy="52.65" r="1.6"/><circle cx="857.96" cy="50.45" r="1.6"/><circle cx="860.53" cy="49" r="1.6"/><circle cx="863.09" cy="49" r="1.6"/><circle cx="865.66" cy="48.25" r="1.6"/><circle cx="868.23" cy="46.09" r="1.6"/><circle cx="870.79" cy="45.34" r="1.6"/><circle cx="873.36" cy="43.14" r="1.6"/><circle cx="875.93" cy="43.89" r="1.6"/><circle cx="878.49" cy="43.89" r="1.6"/><circle cx="881.06" cy="43.14" r="1.6"/><circle cx="883.63" cy="42.44" r="1.6"/><circle cx="886.19" cy="41.39" r="1.6"/><circle cx="888.76" cy="41.39" r="1.6"/><circle cx="891.33" cy="39.88" r="1.6"/><circle cx="893.89" cy="39.61" r="1.6"/><circle cx="896.46" cy="39.03" r="1.6"/><circle cx="899.02" cy="38.65" r="1.6"/><circle cx="901.59" cy="38.43" r="1.6"/><circle cx="904.16" cy="38.51" r="1.6"/><circle cx="906.72" cy="37.77" r="1.6"/><circle cx="909.29" cy="37.92" r="1.6"/><circle cx="911.86" cy="37.5" r="1.6"/><circle cx="914.42" cy="36.63" r="1.6"/><circle cx="916.99" cy="36.69" r="1.6"/><circle cx="919.56" cy="36.59" r="1.6"/><circle cx="922.12" cy="35.9" r="1.6"/><circle cx="924.69" cy="36" r="1.6"/><circle cx="927.26" cy="35.35" r="1.6"/><circle cx="929.82" cy="35.35" r="1.6"/><circle cx="932.39" cy="35.22" r="1.6"/><circle cx="934.96" cy="34.24" r="1.6"/><circle cx="937.52" cy="34.62" r="1.6"/><circle cx="940.09" cy="33.99" r="1.6"/><circle cx="942.65" cy="33.83" r="1.6"/><circle cx="945.22" cy="33.42" r="1.6"/><circle cx="947.79" cy="33.11" r="1.6"/><circle cx="950.35" cy="33.11" r="1.6"/><circle cx="952.92" cy="32.95" r="1.6"/><circle cx="955.49" cy="33.13" r="1.6"/><circle cx="958.05" cy="32.51" r="1.6"/><circle cx="960.62" cy="32.71" r="1.6"/><circle cx="963.19" cy="32.33" r="1.6"/><circle cx="965.75" cy="32.49" r="1.6"/></g>
</g>
<rect class="ax" x="712.4" y="16" width="265.7" height="78.3"/>
<path class="tk" d="M763 94.3v3M814.33 94.3v3M865.66 94.3v3M916.99 94.3v3M968.32 94.3v3M712.4 16h-3M712.4 53.29h-3M712.4 90.57h-3"/>
<text class="t" x="763" y="106.1" transform="rotate(0.03 763 106.1)" text-anchor="middle">1</text><text class="t" x="814.33" y="106.1" transform="rotate(0.03 814.33 106.1)" text-anchor="middle">2</text><text class="t" x="865.66" y="106.1" transform="rotate(0.03 865.66 106.1)" text-anchor="middle">3</text><text class="t" x="916.99" y="106.1" transform="rotate(0.03 916.99 106.1)" text-anchor="middle">4</text><text class="t" x="968.32" y="106.1" transform="rotate(0.03 968.32 106.1)" text-anchor="middle">5</text>
<text class="t" x="706.7" y="18.9" transform="rotate(0.03 706.7 18.9)" text-anchor="end">0</text><text class="t" x="706.7" y="56.19" transform="rotate(0.03 706.7 56.19)" text-anchor="end">−1</text><text class="t" x="706.7" y="93.47" transform="rotate(0.03 706.7 93.47)" text-anchor="end">−2</text>
<text class="t" transform="translate(690.6 55.15) rotate(-89.97)" text-anchor="middle">Energy per spin</text>
</g>
<g>
<clipPath id="ccM"><rect x="712.4" y="110.1" width="265.7" height="78.3"/></clipPath>
<g clip-path="url(#ccM)">
<path class="eb" d="M796.36 114.02V114.73M798.93 113.84V115.26M801.5 113.75V115.88M804.06 113.66V116.51M806.63 113.66V117.22M809.2 113.66V117.93M811.76 113.66V120.78M814.33 113.66V119.35M816.9 113.66V120.78M819.46 115.44V175.94M822.03 176.66V183.77M824.6 123.27V176.66M827.16 111.52V167.05M829.73 120.78V170.6M832.3 129.68V183.06M834.86 146.76V185.91M837.43 133.23V179.5M840 124.53V169.7M842.56 123.82V168.27M845.13 123.48V165.06M847.69 131.56V170.5M850.26 125.86V165.53M852.83 128.09V166.13M855.39 131.51V169.83M857.96 127.9V163.48M860.53 136.49V170.55M863.09 132.17V166.33M865.66 135.37V166.69M868.23 136.38V168.52M870.79 133.88V165.34M873.36 133.87V163.92M875.93 137.02V163.62M878.49 136.27V162.23M881.06 135.22V161.14M883.63 137.41V162.51M886.19 137.98V162.65M888.76 136.1V158.84M891.33 138.27V160.94M893.89 136.72V160.12M896.46 137.05V159.87M899.02 137.94V159.32M901.59 138.28V160.31M904.16 137.79V159.5M906.72 139.12V160.69M909.29 139.83V159.35M911.86 139.66V158.97M914.42 138.71V158.93M916.99 139.87V158.68M919.56 140.38V159.41M922.12 140.47V158.59M924.69 140.04V159.08M927.26 140.39V158.82M929.82 140.47V159.22M932.39 141.32V157.49M934.96 141.19V157.49M937.52 140.4V157.12M940.09 140.44V157M942.65 140.83V157.59M945.22 140.61V158.03M947.79 140.6V156.91M950.35 139.71V157.41M952.92 140.51V157.36M955.49 141.3V156.13M958.05 140.31V156.63M960.62 142.05V158.09M963.19 140.24V156.92M965.75 141.27V158.02"/>
<polyline class="ln" points="724.5,113.66 727.07,113.66 729.64,113.66 732.2,113.66 734.77,113.66 737.34,113.66 739.9,113.66 742.47,113.66 745.03,113.66 747.6,113.66 750.17,113.66 752.73,113.66 755.3,113.66 757.87,113.66 760.43,113.66 763,113.66 765.57,113.66 768.13,113.66 770.7,113.66 773.27,113.66 775.83,113.66 778.4,113.66 780.97,113.66 783.53,113.66 786.1,113.75 788.66,113.84 791.23,114.02 793.8,114.19 796.36,114.37 798.93,114.55 801.5,114.82 804.06,115.08 806.63,115.44 809.2,115.79 811.76,117.22 814.33,116.51 816.9,117.22 819.46,145.69 822.03,180.21 824.6,149.96 827.16,139.28 829.73,145.69 832.3,156.37 834.86,166.33 837.43,156.37 840,147.11 842.56,146.05 845.13,144.27 847.69,151.03 850.26,145.69 852.83,147.11 855.39,150.67 857.96,145.69 860.53,153.52 863.09,149.25 865.66,151.03 868.23,152.45 870.79,149.61 873.36,148.89 875.93,150.32 878.49,149.25 881.06,148.18 883.63,149.96 886.19,150.32 888.76,147.47 891.33,149.61 893.89,148.42 896.46,148.46 899.02,148.63 901.59,149.3 904.16,148.64 906.72,149.91 909.29,149.59 911.86,149.32 914.42,148.82 916.99,149.28 919.56,149.9 922.12,149.53 924.69,149.56 927.26,149.61 929.82,149.85 932.39,149.4 934.96,149.34 937.52,148.76 940.09,148.72 942.65,149.21 945.22,149.32 947.79,148.75 950.35,148.56 952.92,148.94 955.49,148.72 958.05,148.47 960.62,150.07 963.19,148.58 965.75,149.65"/>
<g class="mk"><circle cx="724.5" cy="113.66" r="1.6"/><circle cx="727.07" cy="113.66" r="1.6"/><circle cx="729.64" cy="113.66" r="1.6"/><circle cx="732.2" cy="113.66" r="1.6"/><circle cx="734.77" cy="113.66" r="1.6"/><circle cx="737.34" cy="113.66" r="1.6"/><circle cx="739.9" cy="113.66" r="1.6"/><circle cx="742.47" cy="113.66" r="1.6"/><circle cx="745.03" cy="113.66" r="1.6"/><circle cx="747.6" cy="113.66" r="1.6"/><circle cx="750.17" cy="113.66" r="1.6"/><circle cx="752.73" cy="113.66" r="1.6"/><circle cx="755.3" cy="113.66" r="1.6"/><circle cx="757.87" cy="113.66" r="1.6"/><circle cx="760.43" cy="113.66" r="1.6"/><circle cx="763" cy="113.66" r="1.6"/><circle cx="765.57" cy="113.66" r="1.6"/><circle cx="768.13" cy="113.66" r="1.6"/><circle cx="770.7" cy="113.66" r="1.6"/><circle cx="773.27" cy="113.66" r="1.6"/><circle cx="775.83" cy="113.66" r="1.6"/><circle cx="778.4" cy="113.66" r="1.6"/><circle cx="780.97" cy="113.66" r="1.6"/><circle cx="783.53" cy="113.66" r="1.6"/><circle cx="786.1" cy="113.75" r="1.6"/><circle cx="788.66" cy="113.84" r="1.6"/><circle cx="791.23" cy="114.02" r="1.6"/><circle cx="793.8" cy="114.19" r="1.6"/><circle cx="796.36" cy="114.37" r="1.6"/><circle cx="798.93" cy="114.55" r="1.6"/><circle cx="801.5" cy="114.82" r="1.6"/><circle cx="804.06" cy="115.08" r="1.6"/><circle cx="806.63" cy="115.44" r="1.6"/><circle cx="809.2" cy="115.79" r="1.6"/><circle cx="811.76" cy="117.22" r="1.6"/><circle cx="814.33" cy="116.51" r="1.6"/><circle cx="816.9" cy="117.22" r="1.6"/><circle cx="819.46" cy="145.69" r="1.6"/><circle cx="822.03" cy="180.21" r="1.6"/><circle cx="824.6" cy="149.96" r="1.6"/><circle cx="827.16" cy="139.28" r="1.6"/><circle cx="829.73" cy="145.69" r="1.6"/><circle cx="832.3" cy="156.37" r="1.6"/><circle cx="834.86" cy="166.33" r="1.6"/><circle cx="837.43" cy="156.37" r="1.6"/><circle cx="840" cy="147.11" r="1.6"/><circle cx="842.56" cy="146.05" r="1.6"/><circle cx="845.13" cy="144.27" r="1.6"/><circle cx="847.69" cy="151.03" r="1.6"/><circle cx="850.26" cy="145.69" r="1.6"/><circle cx="852.83" cy="147.11" r="1.6"/><circle cx="855.39" cy="150.67" r="1.6"/><circle cx="857.96" cy="145.69" r="1.6"/><circle cx="860.53" cy="153.52" r="1.6"/><circle cx="863.09" cy="149.25" r="1.6"/><circle cx="865.66" cy="151.03" r="1.6"/><circle cx="868.23" cy="152.45" r="1.6"/><circle cx="870.79" cy="149.61" r="1.6"/><circle cx="873.36" cy="148.89" r="1.6"/><circle cx="875.93" cy="150.32" r="1.6"/><circle cx="878.49" cy="149.25" r="1.6"/><circle cx="881.06" cy="148.18" r="1.6"/><circle cx="883.63" cy="149.96" r="1.6"/><circle cx="886.19" cy="150.32" r="1.6"/><circle cx="888.76" cy="147.47" r="1.6"/><circle cx="891.33" cy="149.61" r="1.6"/><circle cx="893.89" cy="148.42" r="1.6"/><circle cx="896.46" cy="148.46" r="1.6"/><circle cx="899.02" cy="148.63" r="1.6"/><circle cx="901.59" cy="149.3" r="1.6"/><circle cx="904.16" cy="148.64" r="1.6"/><circle cx="906.72" cy="149.91" r="1.6"/><circle cx="909.29" cy="149.59" r="1.6"/><circle cx="911.86" cy="149.32" r="1.6"/><circle cx="914.42" cy="148.82" r="1.6"/><circle cx="916.99" cy="149.28" r="1.6"/><circle cx="919.56" cy="149.9" r="1.6"/><circle cx="922.12" cy="149.53" r="1.6"/><circle cx="924.69" cy="149.56" r="1.6"/><circle cx="927.26" cy="149.61" r="1.6"/><circle cx="929.82" cy="149.85" r="1.6"/><circle cx="932.39" cy="149.4" r="1.6"/><circle cx="934.96" cy="149.34" r="1.6"/><circle cx="937.52" cy="148.76" r="1.6"/><circle cx="940.09" cy="148.72" r="1.6"/><circle cx="942.65" cy="149.21" r="1.6"/><circle cx="945.22" cy="149.32" r="1.6"/><circle cx="947.79" cy="148.75" r="1.6"/><circle cx="950.35" cy="148.56" r="1.6"/><circle cx="952.92" cy="148.94" r="1.6"/><circle cx="955.49" cy="148.72" r="1.6"/><circle cx="958.05" cy="148.47" r="1.6"/><circle cx="960.62" cy="150.07" r="1.6"/><circle cx="963.19" cy="148.58" r="1.6"/><circle cx="965.75" cy="149.65" r="1.6"/></g>
</g>
<rect class="ax" x="712.4" y="110.1" width="265.7" height="78.3"/>
<path class="tk" d="M763 188.4v3M814.33 188.4v3M865.66 188.4v3M916.99 188.4v3M968.32 188.4v3M712.4 113.66h-3M712.4 149.25h-3M712.4 184.84h-3"/>
<text class="t" x="763" y="200.2" transform="rotate(0.03 763 200.2)" text-anchor="middle">1</text><text class="t" x="814.33" y="200.2" transform="rotate(0.03 814.33 200.2)" text-anchor="middle">2</text><text class="t" x="865.66" y="200.2" transform="rotate(0.03 865.66 200.2)" text-anchor="middle">3</text><text class="t" x="916.99" y="200.2" transform="rotate(0.03 916.99 200.2)" text-anchor="middle">4</text><text class="t" x="968.32" y="200.2" transform="rotate(0.03 968.32 200.2)" text-anchor="middle">5</text>
<text class="t" x="706.7" y="116.56" transform="rotate(0.03 706.7 116.56)" text-anchor="end">1</text><text class="t" x="706.7" y="152.15" transform="rotate(0.03 706.7 152.15)" text-anchor="end">0</text><text class="t" x="706.7" y="187.74" transform="rotate(0.03 706.7 187.74)" text-anchor="end">−1</text>
<text class="t" transform="translate(690.6 149.25) rotate(-89.97)" text-anchor="middle">Magnetisation per spin</text>
</g>
<text class="t" x="845.25" y="211" transform="rotate(0.03 845.25 211)" text-anchor="middle">Temperature</text>
<text class="c" x="787" y="239.6" transform="rotate(0.03 831.2 239.6)" textLength="88.4" lengthAdjust="spacingAndGlyphs">(c) Grid Size 8 X 8</text>
<g>
<clipPath id="cdE"><rect x="32.5" y="279" width="265.7" height="78.3"/></clipPath>
<g clip-path="url(#cdE)">
<path class="eb" d="M111.33 341.57V342.13M113.9 340.94V342.06M116.46 340.1V341.78M119.03 339.26V341.5M121.6 338.21V341.01M124.16 337.17V340.52M126.73 335.98V339.89M129.3 334.79V339.26M131.86 333.46V338.49M134.43 332.13V337.73M137 330.52V337.1M139.56 328.92V336.47M142.13 326.47V335M144.7 321.79V331.29M147.26 323.18V332.13M149.83 323.46V331.85M152.4 320.67V329.06M154.96 315.63V324.02M157.53 317.31V325.7M160.09 313.4V321.79M162.66 311.27V319.44M165.23 313.06V321M167.79 311.49V319.21M170.36 310.49V317.98M172.93 309.48V316.75M175.49 308.86V315.91M178.06 308.38V315.2M180.63 308V314.6M183.19 307.45V313.83M185.76 306.83V312.98M188.33 306.11V312.19M190.89 305.95V311.97M193.46 305.52V311.47M196.03 304.99V310.86M198.59 304.49V310.29M201.16 303.95V309.69M203.73 303.47V309.13M206.29 303.27V308.86M208.86 302.54V308.06M211.42 302.49V307.95M213.99 302.06V307.45M216.56 301.87V307.18M219.12 301.53V306.78M221.69 301.21V306.39M224.26 300.92V306.02M226.82 300.68V305.72M229.39 300.5V305.46M231.96 300.23V305.12M234.52 299.95V304.77M237.09 299.45V304.21M239.66 299.45V304.18M242.22 299.24V303.93M244.79 299.14V303.8M247.36 299.03V303.66M249.92 298.75V303.36M252.49 298.69V303.27M255.06 298.67V303.22M257.62 298.23V302.75M260.19 298.43V302.91M262.75 298.32V302.78M265.32 298V302.43M267.89 297.94V302.34M270.45 297.97V302.34M273.02 297.89V302.23M275.59 297.58V301.89M278.15 297.58V301.86M280.72 297.55V301.81M283.29 297.27V301.49M285.85 297.09V301.28"/>
<polyline class="ln" points="44.6,343.32 47.17,343.32 49.74,343.32 52.3,343.32 54.87,343.32 57.43,343.32 60,343.32 62.57,343.32 65.13,343.32 67.7,343.32 70.27,343.32 72.83,343.32 75.4,343.32 77.97,343.32 80.53,343.32 83.1,343.32 85.67,343.25 88.23,343.18 90.8,343.11 93.37,343.04 95.93,342.97 98.5,342.9 101.07,342.72 103.63,342.55 106.2,342.37 108.76,342.2 111.33,341.85 113.9,341.5 116.46,340.94 119.03,340.38 121.6,339.61 124.16,338.84 126.73,337.93 129.3,337.03 131.86,335.98 134.43,334.93 137,333.81 139.56,332.69 142.13,330.73 144.7,326.54 147.26,327.66 149.83,327.66 152.4,324.86 154.96,319.83 157.53,321.51 160.09,317.59 162.66,315.35 165.23,317.03 167.79,315.35 170.36,314.24 172.93,313.12 175.49,312.38 178.06,311.79 180.63,311.3 183.19,310.64 185.76,309.91 188.33,309.15 190.89,308.96 193.46,308.5 196.03,307.92 198.59,307.39 201.16,306.82 203.73,306.3 206.29,306.06 208.86,305.3 211.42,305.22 213.99,304.76 216.56,304.53 219.12,304.15 221.69,303.8 224.26,303.47 226.82,303.2 229.39,302.98 231.96,302.67 234.52,302.36 237.09,301.83 239.66,301.81 242.22,301.59 244.79,301.47 247.36,301.35 249.92,301.06 252.49,300.98 255.06,300.94 257.62,300.49 260.19,300.67 262.75,300.55 265.32,300.21 267.89,300.14 270.45,300.15 273.02,300.06 275.59,299.74 278.15,299.72 280.72,299.68 283.29,299.38 285.85,299.19"/>
<g class="mk"><circle cx="44.6" cy="343.32" r="1.6"/><circle cx="47.17" cy="343.32" r="1.6"/><circle cx="49.74" cy="343.32" r="1.6"/><circle cx="52.3" cy="343.32" r="1.6"/><circle cx="54.87" cy="343.32" r="1.6"/><circle cx="57.43" cy="343.32" r="1.6"/><circle cx="60" cy="343.32" r="1.6"/><circle cx="62.57" cy="343.32" r="1.6"/><circle cx="65.13" cy="343.32" r="1.6"/><circle cx="67.7" cy="343.32" r="1.6"/><circle cx="70.27" cy="343.32" r="1.6"/><circle cx="72.83" cy="343.32" r="1.6"/><circle cx="75.4" cy="343.32" r="1.6"/><circle cx="77.97" cy="343.32" r="1.6"/><circle cx="80.53" cy="343.32" r="1.6"/><circle cx="83.1" cy="343.32" r="1.6"/><circle cx="85.67" cy="343.25" r="1.6"/><circle cx="88.23" cy="343.18" r="1.6"/><circle cx="90.8" cy="343.11" r="1.6"/><circle cx="93.37" cy="343.04" r="1.6"/><circle cx="95.93" cy="342.97" r="1.6"/><circle cx="98.5" cy="342.9" r="1.6"/><circle cx="101.07" cy="342.72" r="1.6"/><circle cx="103.63" cy="342.55" r="1.6"/><circle cx="106.2" cy="342.37" r="1.6"/><circle cx="108.76" cy="342.2" r="1.6"/><circle cx="111.33" cy="341.85" r="1.6"/><circle cx="113.9" cy="341.5" r="1.6"/><circle cx="116.46" cy="340.94" r="1.6"/><circle cx="119.03" cy="340.38" r="1.6"/><circle cx="121.6" cy="339.61" r="1.6"/><circle cx="124.16" cy="338.84" r="1.6"/><circle cx="126.73" cy="337.93" r="1.6"/><circle cx="129.3" cy="337.03" r="1.6"/><circle cx="131.86" cy="335.98" r="1.6"/><circle cx="134.43" cy="334.93" r="1.6"/><circle cx="137" cy="333.81" r="1.6"/><circle cx="139.56" cy="332.69" r="1.6"/><circle cx="142.13" cy="330.73" r="1.6"/><circle cx="144.7" cy="326.54" r="1.6"/><circle cx="147.26" cy="327.66" r="1.6"/><circle cx="149.83" cy="327.66" r="1.6"/><circle cx="152.4" cy="324.86" r="1.6"/><circle cx="154.96" cy="319.83" r="1.6"/><circle cx="157.53" cy="321.51" r="1.6"/><circle cx="160.09" cy="317.59" r="1.6"/><circle cx="162.66" cy="315.35" r="1.6"/><circle cx="165.23" cy="317.03" r="1.6"/><circle cx="167.79" cy="315.35" r="1.6"/><circle cx="170.36" cy="314.24" r="1.6"/><circle cx="172.93" cy="313.12" r="1.6"/><circle cx="175.49" cy="312.38" r="1.6"/><circle cx="178.06" cy="311.79" r="1.6"/><circle cx="180.63" cy="311.3" r="1.6"/><circle cx="183.19" cy="310.64" r="1.6"/><circle cx="185.76" cy="309.91" r="1.6"/><circle cx="188.33" cy="309.15" r="1.6"/><circle cx="190.89" cy="308.96" r="1.6"/><circle cx="193.46" cy="308.5" r="1.6"/><circle cx="196.03" cy="307.92" r="1.6"/><circle cx="198.59" cy="307.39" r="1.6"/><circle cx="201.16" cy="306.82" r="1.6"/><circle cx="203.73" cy="306.3" r="1.6"/><circle cx="206.29" cy="306.06" r="1.6"/><circle cx="208.86" cy="305.3" r="1.6"/><circle cx="211.42" cy="305.22" r="1.6"/><circle cx="213.99" cy="304.76" r="1.6"/><circle cx="216.56" cy="304.53" r="1.6"/><circle cx="219.12" cy="304.15" r="1.6"/><circle cx="221.69" cy="303.8" r="1.6"/><circle cx="224.26" cy="303.47" r="1.6"/><circle cx="226.82" cy="303.2" r="1.6"/><circle cx="229.39" cy="302.98" r="1.6"/><circle cx="231.96" cy="302.67" r="1.6"/><circle cx="234.52" cy="302.36" r="1.6"/><circle cx="237.09" cy="301.83" r="1.6"/><circle cx="239.66" cy="301.81" r="1.6"/><circle cx="242.22" cy="301.59" r="1.6"/><circle cx="244.79" cy="301.47" r="1.6"/><circle cx="247.36" cy="301.35" r="1.6"/><circle cx="249.92" cy="301.06" r="1.6"/><circle cx="252.49" cy="300.98" r="1.6"/><circle cx="255.06" cy="300.94" r="1.6"/><circle cx="257.62" cy="300.49" r="1.6"/><circle cx="260.19" cy="300.67" r="1.6"/><circle cx="262.75" cy="300.55" r="1.6"/><circle cx="265.32" cy="300.21" r="1.6"/><circle cx="267.89" cy="300.14" r="1.6"/><circle cx="270.45" cy="300.15" r="1.6"/><circle cx="273.02" cy="300.06" r="1.6"/><circle cx="275.59" cy="299.74" r="1.6"/><circle cx="278.15" cy="299.72" r="1.6"/><circle cx="280.72" cy="299.68" r="1.6"/><circle cx="283.29" cy="299.38" r="1.6"/><circle cx="285.85" cy="299.19" r="1.6"/></g>
</g>
<rect class="ax" x="32.5" y="279" width="265.7" height="78.3"/>
<path class="tk" d="M83.1 357.3v3M134.43 357.3v3M185.76 357.3v3M237.09 357.3v3M288.42 357.3v3M32.5 287.39h-3M32.5 315.35h-3M32.5 343.32h-3"/>
<text class="t" x="83.1" y="369.1" transform="rotate(0.03 83.1 369.1)" text-anchor="middle">1</text><text class="t" x="134.43" y="369.1" transform="rotate(0.03 134.43 369.1)" text-anchor="middle">2</text><text class="t" x="185.76" y="369.1" transform="rotate(0.03 185.76 369.1)" text-anchor="middle">3</text><text class="t" x="237.09" y="369.1" transform="rotate(0.03 237.09 369.1)" text-anchor="middle">4</text><text class="t" x="288.42" y="369.1" transform="rotate(0.03 288.42 369.1)" text-anchor="middle">5</text>
<text class="t" x="26.8" y="290.29" transform="rotate(0.03 26.8 290.29)" text-anchor="end">0</text><text class="t" x="26.8" y="318.25" transform="rotate(0.03 26.8 318.25)" text-anchor="end">−1</text><text class="t" x="26.8" y="346.22" transform="rotate(0.03 26.8 346.22)" text-anchor="end">−2</text>
<text class="t" transform="translate(10.7 318.15) rotate(-89.97)" text-anchor="middle">Energy per spin</text>
</g>
<g>
<clipPath id="cdM"><rect x="32.5" y="373.1" width="265.7" height="78.3"/></clipPath>
<g clip-path="url(#cdM)">
<path class="eb" d="M121.6 377.73V378.44M124.16 377.73V379.15M126.73 377.82V379.77M129.3 377.9V380.4M131.86 378.17V381.2M134.43 378.44V382M137 378.79V383.42M139.56 379.15V384.85M142.13 380.22V387.34M144.7 379.86V401.22M147.26 380.93V391.61M149.83 381.64V388.76M152.4 397.66V440.37M154.96 417.23V430.76M157.53 384.13V416.17M160.09 406.2V431.82M162.66 402.64V424M165.23 393.03V417.23M167.79 407.09V426.31M170.36 401.22V425.42M172.93 402.11V423.11M175.49 403.86V421.36M178.06 401.84V418.04M180.63 406.09V421.97M183.19 406.57V422.2M185.76 406.67V419.97M188.33 404.01V416.93M190.89 406.2V420.44M193.46 404.35V417.3M196.03 406.55V420.08M198.59 404.17V417.48M201.16 405.52V418.98M203.73 407.3V419.33M206.29 405.35V417.01M208.86 407.51V419.84M211.42 406.63V418.58M213.99 406.89V418.32M216.56 406.67V418.16M219.12 406.98V417.81M221.69 406.4V417.63M224.26 407.84V417.45M226.82 407.22V417.4M229.39 407.23V417.59M231.96 407.75V416.51M234.52 407.85V416.91M237.09 408.51V416.77M239.66 407.77V416.08M242.22 408.35V415.7M244.79 408.38V415.47M247.36 408.06V416.58M249.92 408.3V416.02M252.49 408.26V416.21M255.06 408.14V416.2M257.62 408.84V416.07M260.19 408.93V415.91M262.75 409.45V415.86M265.32 408.55V416.29M267.89 408.56V416.38M270.45 408.39V416.01M273.02 408.23V416.15M275.59 408.55V415.99M278.15 408.66V416.2M280.72 409.39V415.85M283.29 408V415.69M285.85 409V415.77"/>
<polyline class="ln" points="44.6,376.66 47.17,376.66 49.74,376.66 52.3,376.66 54.87,376.66 57.43,376.66 60,376.66 62.57,376.66 65.13,376.66 67.7,376.66 70.27,376.66 72.83,376.66 75.4,376.66 77.97,376.66 80.53,376.66 83.1,376.66 85.67,376.66 88.23,376.66 90.8,376.66 93.37,376.66 95.93,376.66 98.5,376.66 101.07,376.75 103.63,376.84 106.2,376.93 108.76,377.01 111.33,377.19 113.9,377.37 116.46,377.55 119.03,377.73 121.6,378.08 124.16,378.44 126.73,378.79 129.3,379.15 131.86,379.68 134.43,380.22 137,381.11 139.56,382 142.13,383.78 144.7,390.54 147.26,386.27 149.83,385.2 152.4,419.01 154.96,424 157.53,400.15 160.09,419.01 162.66,413.32 165.23,405.13 167.79,416.7 170.36,413.32 172.93,412.61 175.49,412.61 178.06,409.94 180.63,414.03 183.19,414.39 185.76,413.32 188.33,410.47 190.89,413.32 193.46,410.83 196.03,413.32 198.59,410.83 201.16,412.25 203.73,413.32 206.29,411.18 208.86,413.67 211.42,412.61 213.99,412.61 216.56,412.42 219.12,412.39 221.69,412.02 224.26,412.64 226.82,412.31 229.39,412.41 231.96,412.13 234.52,412.38 237.09,412.64 239.66,411.93 242.22,412.03 244.79,411.93 247.36,412.32 249.92,412.16 252.49,412.24 255.06,412.17 257.62,412.45 260.19,412.42 262.75,412.66 265.32,412.42 267.89,412.47 270.45,412.2 273.02,412.19 275.59,412.27 278.15,412.43 280.72,412.62 283.29,411.84 285.85,412.39"/>
<g class="mk"><circle cx="44.6" cy="376.66" r="1.6"/><circle cx="47.17" cy="376.66" r="1.6"/><circle cx="49.74" cy="376.66" r="1.6"/><circle cx="52.3" cy="376.66" r="1.6"/><circle cx="54.87" cy="376.66" r="1.6"/><circle cx="57.43" cy="376.66" r="1.6"/><circle cx="60" cy="376.66" r="1.6"/><circle cx="62.57" cy="376.66" r="1.6"/><circle cx="65.13" cy="376.66" r="1.6"/><circle cx="67.7" cy="376.66" r="1.6"/><circle cx="70.27" cy="376.66" r="1.6"/><circle cx="72.83" cy="376.66" r="1.6"/><circle cx="75.4" cy="376.66" r="1.6"/><circle cx="77.97" cy="376.66" r="1.6"/><circle cx="80.53" cy="376.66" r="1.6"/><circle cx="83.1" cy="376.66" r="1.6"/><circle cx="85.67" cy="376.66" r="1.6"/><circle cx="88.23" cy="376.66" r="1.6"/><circle cx="90.8" cy="376.66" r="1.6"/><circle cx="93.37" cy="376.66" r="1.6"/><circle cx="95.93" cy="376.66" r="1.6"/><circle cx="98.5" cy="376.66" r="1.6"/><circle cx="101.07" cy="376.75" r="1.6"/><circle cx="103.63" cy="376.84" r="1.6"/><circle cx="106.2" cy="376.93" r="1.6"/><circle cx="108.76" cy="377.01" r="1.6"/><circle cx="111.33" cy="377.19" r="1.6"/><circle cx="113.9" cy="377.37" r="1.6"/><circle cx="116.46" cy="377.55" r="1.6"/><circle cx="119.03" cy="377.73" r="1.6"/><circle cx="121.6" cy="378.08" r="1.6"/><circle cx="124.16" cy="378.44" r="1.6"/><circle cx="126.73" cy="378.79" r="1.6"/><circle cx="129.3" cy="379.15" r="1.6"/><circle cx="131.86" cy="379.68" r="1.6"/><circle cx="134.43" cy="380.22" r="1.6"/><circle cx="137" cy="381.11" r="1.6"/><circle cx="139.56" cy="382" r="1.6"/><circle cx="142.13" cy="383.78" r="1.6"/><circle cx="144.7" cy="390.54" r="1.6"/><circle cx="147.26" cy="386.27" r="1.6"/><circle cx="149.83" cy="385.2" r="1.6"/><circle cx="152.4" cy="419.01" r="1.6"/><circle cx="154.96" cy="424" r="1.6"/><circle cx="157.53" cy="400.15" r="1.6"/><circle cx="160.09" cy="419.01" r="1.6"/><circle cx="162.66" cy="413.32" r="1.6"/><circle cx="165.23" cy="405.13" r="1.6"/><circle cx="167.79" cy="416.7" r="1.6"/><circle cx="170.36" cy="413.32" r="1.6"/><circle cx="172.93" cy="412.61" r="1.6"/><circle cx="175.49" cy="412.61" r="1.6"/><circle cx="178.06" cy="409.94" r="1.6"/><circle cx="180.63" cy="414.03" r="1.6"/><circle cx="183.19" cy="414.39" r="1.6"/><circle cx="185.76" cy="413.32" r="1.6"/><circle cx="188.33" cy="410.47" r="1.6"/><circle cx="190.89" cy="413.32" r="1.6"/><circle cx="193.46" cy="410.83" r="1.6"/><circle cx="196.03" cy="413.32" r="1.6"/><circle cx="198.59" cy="410.83" r="1.6"/><circle cx="201.16" cy="412.25" r="1.6"/><circle cx="203.73" cy="413.32" r="1.6"/><circle cx="206.29" cy="411.18" r="1.6"/><circle cx="208.86" cy="413.67" r="1.6"/><circle cx="211.42" cy="412.61" r="1.6"/><circle cx="213.99" cy="412.61" r="1.6"/><circle cx="216.56" cy="412.42" r="1.6"/><circle cx="219.12" cy="412.39" r="1.6"/><circle cx="221.69" cy="412.02" r="1.6"/><circle cx="224.26" cy="412.64" r="1.6"/><circle cx="226.82" cy="412.31" r="1.6"/><circle cx="229.39" cy="412.41" r="1.6"/><circle cx="231.96" cy="412.13" r="1.6"/><circle cx="234.52" cy="412.38" r="1.6"/><circle cx="237.09" cy="412.64" r="1.6"/><circle cx="239.66" cy="411.93" r="1.6"/><circle cx="242.22" cy="412.03" r="1.6"/><circle cx="244.79" cy="411.93" r="1.6"/><circle cx="247.36" cy="412.32" r="1.6"/><circle cx="249.92" cy="412.16" r="1.6"/><circle cx="252.49" cy="412.24" r="1.6"/><circle cx="255.06" cy="412.17" r="1.6"/><circle cx="257.62" cy="412.45" r="1.6"/><circle cx="260.19" cy="412.42" r="1.6"/><circle cx="262.75" cy="412.66" r="1.6"/><circle cx="265.32" cy="412.42" r="1.6"/><circle cx="267.89" cy="412.47" r="1.6"/><circle cx="270.45" cy="412.2" r="1.6"/><circle cx="273.02" cy="412.19" r="1.6"/><circle cx="275.59" cy="412.27" r="1.6"/><circle cx="278.15" cy="412.43" r="1.6"/><circle cx="280.72" cy="412.62" r="1.6"/><circle cx="283.29" cy="411.84" r="1.6"/><circle cx="285.85" cy="412.39" r="1.6"/></g>
</g>
<rect class="ax" x="32.5" y="373.1" width="265.7" height="78.3"/>
<path class="tk" d="M83.1 451.4v3M134.43 451.4v3M185.76 451.4v3M237.09 451.4v3M288.42 451.4v3M32.5 376.66h-3M32.5 412.25h-3M32.5 447.84h-3"/>
<text class="t" x="83.1" y="463.2" transform="rotate(0.03 83.1 463.2)" text-anchor="middle">1</text><text class="t" x="134.43" y="463.2" transform="rotate(0.03 134.43 463.2)" text-anchor="middle">2</text><text class="t" x="185.76" y="463.2" transform="rotate(0.03 185.76 463.2)" text-anchor="middle">3</text><text class="t" x="237.09" y="463.2" transform="rotate(0.03 237.09 463.2)" text-anchor="middle">4</text><text class="t" x="288.42" y="463.2" transform="rotate(0.03 288.42 463.2)" text-anchor="middle">5</text>
<text class="t" x="26.8" y="379.56" transform="rotate(0.03 26.8 379.56)" text-anchor="end">1</text><text class="t" x="26.8" y="415.15" transform="rotate(0.03 26.8 415.15)" text-anchor="end">0</text><text class="t" x="26.8" y="450.74" transform="rotate(0.03 26.8 450.74)" text-anchor="end">−1</text>
<text class="t" transform="translate(10.7 412.25) rotate(-89.97)" text-anchor="middle">Magnetisation per spin</text>
</g>
<text class="t" x="165.35" y="474" transform="rotate(0.03 165.35 474)" text-anchor="middle">Temperature</text>
<text class="c" x="111.6" y="495.9" transform="rotate(0.03 162.6 495.9)" textLength="102" lengthAdjust="spacingAndGlyphs">(d) Grid Size 16 X 16</text>
<g>
<clipPath id="ceE"><rect x="375.6" y="281.3" width="265.7" height="78.3"/></clipPath>
<g clip-path="url(#ceE)">
<path class="eb" d="M469.83 340.23V340.51M472.4 339.33V339.89M474.96 337.93V338.77M477.53 335.89V337M480.1 336.73V338.23M482.66 334.37V336.23M485.23 332.42V334.66M487.8 330.78V333.39M490.36 329.86V332.85M492.93 326.8V330.15M495.5 326.07V329.99M498.06 324.45V328.14M500.63 321.37V324.84M503.2 321.04V324.28M505.76 317.51V320.53M508.33 316.9V319.69M510.89 315.5V318.19M513.46 314.82V317.41M516.03 313.73V316.21M518.59 313.19V315.57M521.16 312.67V314.94M523.73 312.15V314.32M526.29 311.32V313.39M528.86 310.49V312.45M531.43 309.63V311.58M533.99 310.82V312.75M536.56 310.1V312.01M539.13 309.58V311.48M541.69 308.92V310.8M544.26 308.39V310.26M546.83 308.27V310.13M549.39 307.77V309.61M551.96 307.11V308.94M554.53 306.68V308.5M557.09 306.44V308.24M559.66 306.22V308.01M562.22 305.79V307.57M564.79 305.69V307.44M567.36 305.45V307.19M569.92 305.29V307.02M572.49 305.04V306.75M575.06 304.62V306.32M577.62 304.68V306.37M580.19 304.12V305.79M582.76 304.28V305.94M585.32 303.83V305.47M587.89 303.85V305.48M590.46 303.34V304.96M593.02 303.13V304.73M595.59 302.81V304.39M598.16 302.55V304.12M600.72 302.54V304.1M603.29 302.22V303.76M605.86 301.88V303.41M608.42 301.9V303.41M610.99 301.91V303.41M613.55 301.8V303.28M616.12 301.69V303.16M618.69 301.28V302.73M621.25 301.41V302.85M623.82 301.05V302.48M626.39 300.97V302.38M628.95 300.93V302.33"/>
<polyline class="ln" points="387.7,345.62 390.27,345.62 392.84,345.62 395.4,345.62 397.97,345.62 400.54,345.62 403.1,345.62 405.67,345.62 408.23,345.62 410.8,345.62 413.37,345.62 415.93,345.62 418.5,345.62 421.07,345.62 423.63,345.62 426.2,345.62 428.77,345.55 431.33,345.48 433.9,345.41 436.47,345.34 439.03,345.27 441.6,345.2 444.17,345.02 446.73,344.85 449.3,344.67 451.87,344.5 454.43,344.15 457,343.8 459.56,343.24 462.13,342.68 464.7,341.91 467.26,341.14 469.83,340.37 472.4,339.61 474.96,338.35 477.53,336.45 480.1,337.48 482.66,335.3 485.23,333.54 487.8,332.08 490.36,331.36 492.93,328.48 495.5,328.03 498.06,326.29 500.63,323.11 503.2,322.66 505.76,319.02 508.33,318.3 510.89,316.84 513.46,316.12 516.03,314.97 518.59,314.38 521.16,313.81 523.73,313.24 526.29,312.35 528.86,311.47 531.43,310.61 533.99,311.78 536.56,311.05 539.13,310.53 541.69,309.86 544.26,309.32 546.83,309.2 549.39,308.69 551.96,308.03 554.53,307.59 557.09,307.34 559.66,307.12 562.22,306.68 564.79,306.57 567.36,306.32 569.92,306.15 572.49,305.89 575.06,305.47 577.62,305.53 580.19,304.95 582.76,305.11 585.32,304.65 587.89,304.67 590.46,304.15 593.02,303.93 595.59,303.6 598.16,303.33 600.72,303.32 603.29,302.99 605.86,302.64 608.42,302.65 610.99,302.66 613.55,302.54 616.12,302.43 618.69,302.01 621.25,302.13 623.82,301.76 626.39,301.68 628.95,301.63"/>
<g class="mk"><circle cx="387.7" cy="345.62" r="1.6"/><circle cx="390.27" cy="345.62" r="1.6"/><circle cx="392.84" cy="345.62" r="1.6"/><circle cx="395.4" cy="345.62" r="1.6"/><circle cx="397.97" cy="345.62" r="1.6"/><circle cx="400.54" cy="345.62" r="1.6"/><circle cx="403.1" cy="345.62" r="1.6"/><circle cx="405.67" cy="345.62" r="1.6"/><circle cx="408.23" cy="345.62" r="1.6"/><circle cx="410.8" cy="345.62" r="1.6"/><circle cx="413.37" cy="345.62" r="1.6"/><circle cx="415.93" cy="345.62" r="1.6"/><circle cx="418.5" cy="345.62" r="1.6"/><circle cx="421.07" cy="345.62" r="1.6"/><circle cx="423.63" cy="345.62" r="1.6"/><circle cx="426.2" cy="345.62" r="1.6"/><circle cx="428.77" cy="345.55" r="1.6"/><circle cx="431.33" cy="345.48" r="1.6"/><circle cx="433.9" cy="345.41" r="1.6"/><circle cx="436.47" cy="345.34" r="1.6"/><circle cx="439.03" cy="345.27" r="1.6"/><circle cx="441.6" cy="345.2" r="1.6"/><circle cx="444.17" cy="345.02" r="1.6"/><circle cx="446.73" cy="344.85" r="1.6"/><circle cx="449.3" cy="344.67" r="1.6"/><circle cx="451.87" cy="344.5" r="1.6"/><circle cx="454.43" cy="344.15" r="1.6"/><circle cx="457" cy="343.8" r="1.6"/><circle cx="459.56" cy="343.24" r="1.6"/><circle cx="462.13" cy="342.68" r="1.6"/><circle cx="464.7" cy="341.91" r="1.6"/><circle cx="467.26" cy="341.14" r="1.6"/><circle cx="469.83" cy="340.37" r="1.6"/><circle cx="472.4" cy="339.61" r="1.6"/><circle cx="474.96" cy="338.35" r="1.6"/><circle cx="477.53" cy="336.45" r="1.6"/><circle cx="480.1" cy="337.48" r="1.6"/><circle cx="482.66" cy="335.3" r="1.6"/><circle cx="485.23" cy="333.54" r="1.6"/><circle cx="487.8" cy="332.08" r="1.6"/><circle cx="490.36" cy="331.36" r="1.6"/><circle cx="492.93" cy="328.48" r="1.6"/><circle cx="495.5" cy="328.03" r="1.6"/><circle cx="498.06" cy="326.29" r="1.6"/><circle cx="500.63" cy="323.11" r="1.6"/><circle cx="503.2" cy="322.66" r="1.6"/><circle cx="505.76" cy="319.02" r="1.6"/><circle cx="508.33" cy="318.3" r="1.6"/><circle cx="510.89" cy="316.84" r="1.6"/><circle cx="513.46" cy="316.12" r="1.6"/><circle cx="516.03" cy="314.97" r="1.6"/><circle cx="518.59" cy="314.38" r="1.6"/><circle cx="521.16" cy="313.81" r="1.6"/><circle cx="523.73" cy="313.24" r="1.6"/><circle cx="526.29" cy="312.35" r="1.6"/><circle cx="528.86" cy="311.47" r="1.6"/><circle cx="531.43" cy="310.61" r="1.6"/><circle cx="533.99" cy="311.78" r="1.6"/><circle cx="536.56" cy="311.05" r="1.6"/><circle cx="539.13" cy="310.53" r="1.6"/><circle cx="541.69" cy="309.86" r="1.6"/><circle cx="544.26" cy="309.32" r="1.6"/><circle cx="546.83" cy="309.2" r="1.6"/><circle cx="549.39" cy="308.69" r="1.6"/><circle cx="551.96" cy="308.03" r="1.6"/><circle cx="554.53" cy="307.59" r="1.6"/><circle cx="557.09" cy="307.34" r="1.6"/><circle cx="559.66" cy="307.12" r="1.6"/><circle cx="562.22" cy="306.68" r="1.6"/><circle cx="564.79" cy="306.57" r="1.6"/><circle cx="567.36" cy="306.32" r="1.6"/><circle cx="569.92" cy="306.15" r="1.6"/><circle cx="572.49" cy="305.89" r="1.6"/><circle cx="575.06" cy="305.47" r="1.6"/><circle cx="577.62" cy="305.53" r="1.6"/><circle cx="580.19" cy="304.95" r="1.6"/><circle cx="582.76" cy="305.11" r="1.6"/><circle cx="585.32" cy="304.65" r="1.6"/><circle cx="587.89" cy="304.67" r="1.6"/><circle cx="590.46" cy="304.15" r="1.6"/><circle cx="593.02" cy="303.93" r="1.6"/><circle cx="595.59" cy="303.6" r="1.6"/><circle cx="598.16" cy="303.33" r="1.6"/><circle cx="600.72" cy="303.32" r="1.6"/><circle cx="603.29" cy="302.99" r="1.6"/><circle cx="605.86" cy="302.64" r="1.6"/><circle cx="608.42" cy="302.65" r="1.6"/><circle cx="610.99" cy="302.66" r="1.6"/><circle cx="613.55" cy="302.54" r="1.6"/><circle cx="616.12" cy="302.43" r="1.6"/><circle cx="618.69" cy="302.01" r="1.6"/><circle cx="621.25" cy="302.13" r="1.6"/><circle cx="623.82" cy="301.76" r="1.6"/><circle cx="626.39" cy="301.68" r="1.6"/><circle cx="628.95" cy="301.63" r="1.6"/></g>
</g>
<rect class="ax" x="375.6" y="281.3" width="265.7" height="78.3"/>
<path class="tk" d="M426.2 359.6v3M477.53 359.6v3M528.86 359.6v3M580.19 359.6v3M631.52 359.6v3M375.6 289.69h-3M375.6 317.65h-3M375.6 345.62h-3"/>
<text class="t" x="426.2" y="371.4" transform="rotate(0.03 426.2 371.4)" text-anchor="middle">1</text><text class="t" x="477.53" y="371.4" transform="rotate(0.03 477.53 371.4)" text-anchor="middle">2</text><text class="t" x="528.86" y="371.4" transform="rotate(0.03 528.86 371.4)" text-anchor="middle">3</text><text class="t" x="580.19" y="371.4" transform="rotate(0.03 580.19 371.4)" text-anchor="middle">4</text><text class="t" x="631.52" y="371.4" transform="rotate(0.03 631.52 371.4)" text-anchor="middle">5</text>
<text class="t" x="369.9" y="292.59" transform="rotate(0.03 369.9 292.59)" text-anchor="end">0</text><text class="t" x="369.9" y="320.55" transform="rotate(0.03 369.9 320.55)" text-anchor="end">−1</text><text class="t" x="369.9" y="348.52" transform="rotate(0.03 369.9 348.52)" text-anchor="end">−2</text>
<text class="t" transform="translate(353.8 320.45) rotate(-89.97)" text-anchor="middle">Energy per spin</text>
</g>
<g>
<clipPath id="ceM"><rect x="375.6" y="375.4" width="265.7" height="78.3"/></clipPath>
<g clip-path="url(#ceM)">
<path class="eb" d="M480.1 382.25V382.79M482.66 383.05V384.12M485.23 384.39V385.99M487.8 385.72V387.86M490.36 386.08V389.64M492.93 386.43V391.42M495.5 387.14V394.26M498.06 389.28V392.84M500.63 396.4V399.96M503.2 409.21V430.57M505.76 419.89V427.01M508.33 401.03V411.7M510.89 403.52V409.21M513.46 410.99V416.69M516.03 409.92V415.62M518.59 415.62V421.31M521.16 407.97V415.44M523.73 406.01V415.26M526.29 410.63V417.75M528.86 410.28V415.26M531.43 407.79V414.91M533.99 409.33V416.21M536.56 411.23V417.87M539.13 410.99V417.4M541.69 409.33V415.5M544.26 412.3V418.23M546.83 412.06V417.75M549.39 410.75V416.21M551.96 412.65V417.87M554.53 412.06V417.04M557.09 413.91V418.75M559.66 410.42V415.12M562.22 411.58V416.14M564.79 411.81V416.22M567.36 412.42V416.69M569.92 413.05V417.17M572.49 411.97V415.95M575.06 412.82V416.66M577.62 413.09V416.79M580.19 412.24V415.8M582.76 413.31V416.83M585.32 413.18V416.67M587.89 412.69V416.14M590.46 412.75V416.16M593.02 412.21V415.58M595.59 412.95V416.28M598.16 413.43V416.73M600.72 412.55V415.81M603.29 413.36V416.59M605.86 413.42V416.6M608.42 413.07V416.21M610.99 413.22V416.33M613.55 412.35V415.42M616.12 413.54V416.58M618.69 412.56V415.56M621.25 412.83V415.79M623.82 413.65V416.57M626.39 413.69V416.58M628.95 414.19V417.04"/>
<polyline class="ln" points="387.7,378.96 390.27,378.96 392.84,378.96 395.4,378.96 397.97,378.96 400.54,378.96 403.1,378.96 405.67,378.96 408.23,378.96 410.8,378.96 413.37,378.96 415.93,378.96 418.5,378.96 421.07,378.96 423.63,378.96 426.2,378.96 428.77,378.96 431.33,378.96 433.9,378.96 436.47,378.96 439.03,378.96 441.6,378.96 444.17,379.05 446.73,379.14 449.3,379.23 451.87,379.31 454.43,379.49 457,379.67 459.56,379.85 462.13,380.03 464.7,380.2 467.26,380.38 469.83,380.92 472.4,381.45 474.96,382.34 477.53,383.23 480.1,382.52 482.66,383.59 485.23,385.19 487.8,386.79 490.36,387.86 492.93,388.92 495.5,390.7 498.06,391.06 500.63,398.18 503.2,419.89 505.76,423.45 508.33,406.36 510.89,406.36 513.46,413.84 516.03,412.77 518.59,418.46 521.16,411.7 523.73,410.63 526.29,414.19 528.86,412.77 531.43,411.35 533.99,412.77 536.56,414.55 539.13,414.19 541.69,412.41 544.26,415.26 546.83,414.91 549.39,413.48 551.96,415.26 554.53,414.55 557.09,416.33 559.66,412.77 562.22,413.86 564.79,414.02 567.36,414.55 569.92,415.11 572.49,413.96 575.06,414.74 577.62,414.94 580.19,414.02 582.76,415.07 585.32,414.93 587.89,414.41 590.46,414.46 593.02,413.9 595.59,414.62 598.16,415.08 600.72,414.18 603.29,414.97 605.86,415.01 608.42,414.64 610.99,414.78 613.55,413.88 616.12,415.06 618.69,414.06 621.25,414.31 623.82,415.11 626.39,415.14 628.95,415.62"/>
<g class="mk"><circle cx="387.7" cy="378.96" r="1.6"/><circle cx="390.27" cy="378.96" r="1.6"/><circle cx="392.84" cy="378.96" r="1.6"/><circle cx="395.4" cy="378.96" r="1.6"/><circle cx="397.97" cy="378.96" r="1.6"/><circle cx="400.54" cy="378.96" r="1.6"/><circle cx="403.1" cy="378.96" r="1.6"/><circle cx="405.67" cy="378.96" r="1.6"/><circle cx="408.23" cy="378.96" r="1.6"/><circle cx="410.8" cy="378.96" r="1.6"/><circle cx="413.37" cy="378.96" r="1.6"/><circle cx="415.93" cy="378.96" r="1.6"/><circle cx="418.5" cy="378.96" r="1.6"/><circle cx="421.07" cy="378.96" r="1.6"/><circle cx="423.63" cy="378.96" r="1.6"/><circle cx="426.2" cy="378.96" r="1.6"/><circle cx="428.77" cy="378.96" r="1.6"/><circle cx="431.33" cy="378.96" r="1.6"/><circle cx="433.9" cy="378.96" r="1.6"/><circle cx="436.47" cy="378.96" r="1.6"/><circle cx="439.03" cy="378.96" r="1.6"/><circle cx="441.6" cy="378.96" r="1.6"/><circle cx="444.17" cy="379.05" r="1.6"/><circle cx="446.73" cy="379.14" r="1.6"/><circle cx="449.3" cy="379.23" r="1.6"/><circle cx="451.87" cy="379.31" r="1.6"/><circle cx="454.43" cy="379.49" r="1.6"/><circle cx="457" cy="379.67" r="1.6"/><circle cx="459.56" cy="379.85" r="1.6"/><circle cx="462.13" cy="380.03" r="1.6"/><circle cx="464.7" cy="380.2" r="1.6"/><circle cx="467.26" cy="380.38" r="1.6"/><circle cx="469.83" cy="380.92" r="1.6"/><circle cx="472.4" cy="381.45" r="1.6"/><circle cx="474.96" cy="382.34" r="1.6"/><circle cx="477.53" cy="383.23" r="1.6"/><circle cx="480.1" cy="382.52" r="1.6"/><circle cx="482.66" cy="383.59" r="1.6"/><circle cx="485.23" cy="385.19" r="1.6"/><circle cx="487.8" cy="386.79" r="1.6"/><circle cx="490.36" cy="387.86" r="1.6"/><circle cx="492.93" cy="388.92" r="1.6"/><circle cx="495.5" cy="390.7" r="1.6"/><circle cx="498.06" cy="391.06" r="1.6"/><circle cx="500.63" cy="398.18" r="1.6"/><circle cx="503.2" cy="419.89" r="1.6"/><circle cx="505.76" cy="423.45" r="1.6"/><circle cx="508.33" cy="406.36" r="1.6"/><circle cx="510.89" cy="406.36" r="1.6"/><circle cx="513.46" cy="413.84" r="1.6"/><circle cx="516.03" cy="412.77" r="1.6"/><circle cx="518.59" cy="418.46" r="1.6"/><circle cx="521.16" cy="411.7" r="1.6"/><circle cx="523.73" cy="410.63" r="1.6"/><circle cx="526.29" cy="414.19" r="1.6"/><circle cx="528.86" cy="412.77" r="1.6"/><circle cx="531.43" cy="411.35" r="1.6"/><circle cx="533.99" cy="412.77" r="1.6"/><circle cx="536.56" cy="414.55" r="1.6"/><circle cx="539.13" cy="414.19" r="1.6"/><circle cx="541.69" cy="412.41" r="1.6"/><circle cx="544.26" cy="415.26" r="1.6"/><circle cx="546.83" cy="414.91" r="1.6"/><circle cx="549.39" cy="413.48" r="1.6"/><circle cx="551.96" cy="415.26" r="1.6"/><circle cx="554.53" cy="414.55" r="1.6"/><circle cx="557.09" cy="416.33" r="1.6"/><circle cx="559.66" cy="412.77" r="1.6"/><circle cx="562.22" cy="413.86" r="1.6"/><circle cx="564.79" cy="414.02" r="1.6"/><circle cx="567.36" cy="414.55" r="1.6"/><circle cx="569.92" cy="415.11" r="1.6"/><circle cx="572.49" cy="413.96" r="1.6"/><circle cx="575.06" cy="414.74" r="1.6"/><circle cx="577.62" cy="414.94" r="1.6"/><circle cx="580.19" cy="414.02" r="1.6"/><circle cx="582.76" cy="415.07" r="1.6"/><circle cx="585.32" cy="414.93" r="1.6"/><circle cx="587.89" cy="414.41" r="1.6"/><circle cx="590.46" cy="414.46" r="1.6"/><circle cx="593.02" cy="413.9" r="1.6"/><circle cx="595.59" cy="414.62" r="1.6"/><circle cx="598.16" cy="415.08" r="1.6"/><circle cx="600.72" cy="414.18" r="1.6"/><circle cx="603.29" cy="414.97" r="1.6"/><circle cx="605.86" cy="415.01" r="1.6"/><circle cx="608.42" cy="414.64" r="1.6"/><circle cx="610.99" cy="414.78" r="1.6"/><circle cx="613.55" cy="413.88" r="1.6"/><circle cx="616.12" cy="415.06" r="1.6"/><circle cx="618.69" cy="414.06" r="1.6"/><circle cx="621.25" cy="414.31" r="1.6"/><circle cx="623.82" cy="415.11" r="1.6"/><circle cx="626.39" cy="415.14" r="1.6"/><circle cx="628.95" cy="415.62" r="1.6"/></g>
</g>
<rect class="ax" x="375.6" y="375.4" width="265.7" height="78.3"/>
<path class="tk" d="M426.2 453.7v3M477.53 453.7v3M528.86 453.7v3M580.19 453.7v3M631.52 453.7v3M375.6 378.96h-3M375.6 414.55h-3M375.6 450.14h-3"/>
<text class="t" x="426.2" y="465.5" transform="rotate(0.03 426.2 465.5)" text-anchor="middle">1</text><text class="t" x="477.53" y="465.5" transform="rotate(0.03 477.53 465.5)" text-anchor="middle">2</text><text class="t" x="528.86" y="465.5" transform="rotate(0.03 528.86 465.5)" text-anchor="middle">3</text><text class="t" x="580.19" y="465.5" transform="rotate(0.03 580.19 465.5)" text-anchor="middle">4</text><text class="t" x="631.52" y="465.5" transform="rotate(0.03 631.52 465.5)" text-anchor="middle">5</text>
<text class="t" x="369.9" y="381.86" transform="rotate(0.03 369.9 381.86)" text-anchor="end">1</text><text class="t" x="369.9" y="417.45" transform="rotate(0.03 369.9 417.45)" text-anchor="end">0</text><text class="t" x="369.9" y="453.04" transform="rotate(0.03 369.9 453.04)" text-anchor="end">−1</text>
<text class="t" transform="translate(353.8 414.55) rotate(-89.97)" text-anchor="middle">Magnetisation per spin</text>
</g>
<text class="t" x="508.45" y="476.3" transform="rotate(0.03 508.45 476.3)" text-anchor="middle">Temperature</text>
<text class="c" x="447.6" y="496.4" transform="rotate(0.03 498.3 496.4)" textLength="101.4" lengthAdjust="spacingAndGlyphs">(e) Grid Size 32 X 32</text>
</g>
</svg>
</body></html>
